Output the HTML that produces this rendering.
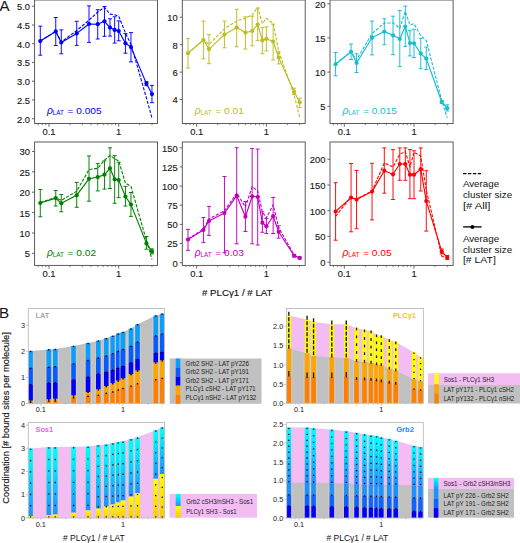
<!DOCTYPE html><html><head><meta charset="utf-8"><style>html,body{margin:0;padding:0;background:#fff;}svg{display:block;}</style></head><body>
<svg width="520" height="543" viewBox="0 0 520 543" font-family='"Liberation Sans", sans-serif'>
<rect width="520" height="543" fill="#fff"/>
<text x="-0.40" y="10.80" font-size="14.90" text-anchor="start" fill="#111" textLength="10.06" lengthAdjust="spacingAndGlyphs" >A</text>
<defs><clipPath id="ca00"><rect x="34.6" y="0.0" width="122.9" height="123.5"/></clipPath></defs>
<g clip-path="url(#ca00)">
<polyline points="40.29,41.00 55.75,31.40 61.27,42.00 76.74,30.50 89.01,20.20 97.72,12.00 104.47,7.40 109.99,14.10 114.66,14.80 118.70,16.20 125.45,33.00 130.97,44.40 146.44,98.00 151.96,117.90" fill="none" stroke="#0000ff" stroke-width="1.1" stroke-dasharray="3.2,1.5" stroke-linejoin="round"/>
<g opacity="0.95">
<path d="M40.29,26.20V55.20M38.29,26.20H42.29M38.29,55.20H42.29M55.75,17.50V45.50M53.75,17.50H57.75M53.75,45.50H57.75M61.27,29.90V53.80M59.27,29.90H63.27M59.27,53.80H63.27M76.74,21.30V45.40M74.74,21.30H78.74M74.74,45.40H78.74M89.01,5.90V42.40M87.01,5.90H91.01M87.01,42.40H91.01M97.72,9.70V39.00M95.72,9.70H99.72M95.72,39.00H99.72M104.47,6.50V36.30M102.47,6.50H106.47M102.47,36.30H106.47M109.99,18.80V36.10M107.99,18.80H111.99M107.99,36.10H111.99M114.66,16.80V43.10M112.66,16.80H116.66M112.66,43.10H116.66M118.70,20.90V40.80M116.70,20.90H120.70M116.70,40.80H120.70M125.45,33.60V53.20M123.45,33.60H127.45M123.45,53.20H127.45M130.97,32.60V61.90M128.97,32.60H132.97M128.97,61.90H132.97M146.44,81.60V85.70M144.44,81.60H148.44M144.44,85.70H148.44M151.96,85.40V102.70M149.96,85.40H153.96M149.96,102.70H153.96" fill="none" stroke="#0000ff" stroke-width="1.0"/>
</g>
<polyline points="40.29,41.05 55.75,31.40 61.27,42.40 76.74,33.40 89.01,24.00 97.72,24.20 104.47,21.30 109.99,27.60 114.66,29.90 118.70,31.00 125.45,43.30 130.97,47.10 146.44,83.60 151.96,94.10" fill="none" stroke="#0000ff" stroke-width="1.15" stroke-linejoin="round"/>
<circle cx="40.29" cy="41.05" r="2.1" fill="#0000ff"/>
<circle cx="55.75" cy="31.40" r="2.1" fill="#0000ff"/>
<circle cx="61.27" cy="42.40" r="2.1" fill="#0000ff"/>
<circle cx="76.74" cy="33.40" r="2.1" fill="#0000ff"/>
<circle cx="89.01" cy="24.00" r="2.1" fill="#0000ff"/>
<circle cx="97.72" cy="24.20" r="2.1" fill="#0000ff"/>
<circle cx="104.47" cy="21.30" r="2.1" fill="#0000ff"/>
<circle cx="109.99" cy="27.60" r="2.1" fill="#0000ff"/>
<circle cx="114.66" cy="29.90" r="2.1" fill="#0000ff"/>
<circle cx="118.70" cy="31.00" r="2.1" fill="#0000ff"/>
<circle cx="125.45" cy="43.30" r="2.1" fill="#0000ff"/>
<circle cx="130.97" cy="47.10" r="2.1" fill="#0000ff"/>
<circle cx="146.44" cy="83.60" r="2.1" fill="#0000ff"/>
<circle cx="151.96" cy="94.10" r="2.1" fill="#0000ff"/>
</g>
<rect x="34.60" y="0.00" width="122.90" height="123.50" fill="none" stroke="#4a4a4a" stroke-width="0.9"/>
<line x1="38.20" y1="123.5" x2="38.20" y2="125.3" stroke="#555" stroke-width="0.7"/>
<line x1="42.25" y1="123.5" x2="42.25" y2="125.3" stroke="#555" stroke-width="0.7"/>
<line x1="45.81" y1="123.5" x2="45.81" y2="125.3" stroke="#555" stroke-width="0.7"/>
<line x1="49.00" y1="123.5" x2="49.00" y2="126.7" stroke="#555" stroke-width="0.9"/>
<line x1="69.98" y1="123.5" x2="69.98" y2="125.3" stroke="#555" stroke-width="0.7"/>
<line x1="82.26" y1="123.5" x2="82.26" y2="125.3" stroke="#555" stroke-width="0.7"/>
<line x1="90.96" y1="123.5" x2="90.96" y2="125.3" stroke="#555" stroke-width="0.7"/>
<line x1="97.72" y1="123.5" x2="97.72" y2="125.3" stroke="#555" stroke-width="0.7"/>
<line x1="103.24" y1="123.5" x2="103.24" y2="125.3" stroke="#555" stroke-width="0.7"/>
<line x1="107.90" y1="123.5" x2="107.90" y2="125.3" stroke="#555" stroke-width="0.7"/>
<line x1="111.95" y1="123.5" x2="111.95" y2="125.3" stroke="#555" stroke-width="0.7"/>
<line x1="115.51" y1="123.5" x2="115.51" y2="125.3" stroke="#555" stroke-width="0.7"/>
<line x1="118.70" y1="123.5" x2="118.70" y2="126.7" stroke="#555" stroke-width="0.9"/>
<line x1="139.68" y1="123.5" x2="139.68" y2="125.3" stroke="#555" stroke-width="0.7"/>
<line x1="151.96" y1="123.5" x2="151.96" y2="125.3" stroke="#555" stroke-width="0.7"/>
<text x="49.00" y="134.80" font-size="9.43" text-anchor="middle" fill="#1a1a1a" stroke="#1a1a1a" stroke-width="0.14" textLength="13.04" lengthAdjust="spacingAndGlyphs" >0.1</text>
<text x="118.70" y="134.80" font-size="9.43" text-anchor="middle" fill="#1a1a1a" stroke="#1a1a1a" stroke-width="0.14" textLength="5.22" lengthAdjust="spacingAndGlyphs" >1</text>
<line x1="32.00" y1="6.20" x2="34.60" y2="6.20" stroke="#555" stroke-width="0.9"/>
<text x="30.00" y="10.10" font-size="9.43" text-anchor="end" fill="#1a1a1a" stroke="#1a1a1a" stroke-width="0.14" textLength="13.04" lengthAdjust="spacingAndGlyphs" >5.0</text>
<line x1="32.00" y1="25.00" x2="34.60" y2="25.00" stroke="#555" stroke-width="0.9"/>
<text x="30.00" y="28.90" font-size="9.43" text-anchor="end" fill="#1a1a1a" stroke="#1a1a1a" stroke-width="0.14" textLength="13.04" lengthAdjust="spacingAndGlyphs" >4.5</text>
<line x1="32.00" y1="43.70" x2="34.60" y2="43.70" stroke="#555" stroke-width="0.9"/>
<text x="30.00" y="47.60" font-size="9.43" text-anchor="end" fill="#1a1a1a" stroke="#1a1a1a" stroke-width="0.14" textLength="13.04" lengthAdjust="spacingAndGlyphs" >4.0</text>
<line x1="32.00" y1="62.40" x2="34.60" y2="62.40" stroke="#555" stroke-width="0.9"/>
<text x="30.00" y="66.30" font-size="9.43" text-anchor="end" fill="#1a1a1a" stroke="#1a1a1a" stroke-width="0.14" textLength="13.04" lengthAdjust="spacingAndGlyphs" >3.5</text>
<line x1="32.00" y1="81.20" x2="34.60" y2="81.20" stroke="#555" stroke-width="0.9"/>
<text x="30.00" y="85.10" font-size="9.43" text-anchor="end" fill="#1a1a1a" stroke="#1a1a1a" stroke-width="0.14" textLength="13.04" lengthAdjust="spacingAndGlyphs" >3.0</text>
<line x1="32.00" y1="99.90" x2="34.60" y2="99.90" stroke="#555" stroke-width="0.9"/>
<text x="30.00" y="103.80" font-size="9.43" text-anchor="end" fill="#1a1a1a" stroke="#1a1a1a" stroke-width="0.14" textLength="13.04" lengthAdjust="spacingAndGlyphs" >2.5</text>
<line x1="32.00" y1="118.70" x2="34.60" y2="118.70" stroke="#555" stroke-width="0.9"/>
<text x="30.00" y="122.60" font-size="9.43" text-anchor="end" fill="#1a1a1a" stroke="#1a1a1a" stroke-width="0.14" textLength="13.04" lengthAdjust="spacingAndGlyphs" >2.0</text>
<text x="47.00" y="113.90" font-size="10.3" font-style="italic" fill="#0000ff">ρ</text>
<text x="52.80" y="115.40" font-size="6.90" text-anchor="start" fill="#0000ff" textLength="11.11" lengthAdjust="spacingAndGlyphs" >LAT</text>
<text x="67.60" y="113.90" font-size="9.72" text-anchor="start" fill="#0000ff" textLength="33.96" lengthAdjust="spacingAndGlyphs" >= 0.005</text>
<defs><clipPath id="ca10"><rect x="182.3" y="0.0" width="122.89999999999998" height="123.5"/></clipPath></defs>
<g clip-path="url(#ca10)">
<polyline points="187.99,53.20 203.45,40.00 208.97,44.40 224.44,28.90 236.71,20.90 245.42,18.20 252.17,14.80 257.69,7.40 262.36,23.60 266.40,18.20 273.15,23.60 278.67,51.00 294.14,95.10 299.66,117.20" fill="none" stroke="#bcbd22" stroke-width="1.1" stroke-dasharray="3.2,1.5" stroke-linejoin="round"/>
<g opacity="0.95">
<path d="M187.99,38.60V68.00M185.99,38.60H189.99M185.99,68.00H189.99M203.45,21.10V58.80M201.45,21.10H205.45M201.45,58.80H205.45M208.97,34.60V63.70M206.97,34.60H210.97M206.97,63.70H210.97M224.44,21.10V47.80M222.44,21.10H226.44M222.44,47.80H226.44M236.71,9.20V46.80M234.71,9.20H238.71M234.71,46.80H238.71M245.42,16.80V49.00M243.42,16.80H247.42M243.42,49.00H247.42M252.17,16.20V45.80M250.17,16.20H254.17M250.17,45.80H254.17M257.69,8.10V40.60M255.69,8.10H259.69M255.69,40.60H259.69M262.36,27.60V53.80M260.36,27.60H264.36M260.36,53.80H264.36M266.40,26.90V50.90M264.40,26.90H268.40M264.40,50.90H268.40M273.15,24.20V59.90M271.15,24.20H275.15M271.15,59.90H275.15M278.67,51.80V63.90M276.67,51.80H280.67M276.67,63.90H280.67M294.14,88.20V94.40M292.14,88.20H296.14M292.14,94.40H296.14M299.66,98.20V107.60M297.66,98.20H301.66M297.66,107.60H301.66" fill="none" stroke="#bcbd22" stroke-width="1.0"/>
</g>
<polyline points="187.99,53.20 203.45,40.00 208.97,49.10 224.44,34.60 236.71,27.60 245.42,32.60 252.17,31.00 257.69,24.50 262.36,40.40 266.40,38.80 273.15,41.50 278.67,57.50 294.14,91.70 299.66,102.30" fill="none" stroke="#bcbd22" stroke-width="1.15" stroke-linejoin="round"/>
<circle cx="187.99" cy="53.20" r="2.1" fill="#bcbd22"/>
<circle cx="203.45" cy="40.00" r="2.1" fill="#bcbd22"/>
<circle cx="208.97" cy="49.10" r="2.1" fill="#bcbd22"/>
<circle cx="224.44" cy="34.60" r="2.1" fill="#bcbd22"/>
<circle cx="236.71" cy="27.60" r="2.1" fill="#bcbd22"/>
<circle cx="245.42" cy="32.60" r="2.1" fill="#bcbd22"/>
<circle cx="252.17" cy="31.00" r="2.1" fill="#bcbd22"/>
<circle cx="257.69" cy="24.50" r="2.1" fill="#bcbd22"/>
<circle cx="262.36" cy="40.40" r="2.1" fill="#bcbd22"/>
<circle cx="266.40" cy="38.80" r="2.1" fill="#bcbd22"/>
<circle cx="273.15" cy="41.50" r="2.1" fill="#bcbd22"/>
<circle cx="278.67" cy="57.50" r="2.1" fill="#bcbd22"/>
<circle cx="294.14" cy="91.70" r="2.1" fill="#bcbd22"/>
<circle cx="299.66" cy="102.30" r="2.1" fill="#bcbd22"/>
</g>
<rect x="182.30" y="0.00" width="122.90" height="123.50" fill="none" stroke="#4a4a4a" stroke-width="0.9"/>
<line x1="185.90" y1="123.5" x2="185.90" y2="125.3" stroke="#555" stroke-width="0.7"/>
<line x1="189.95" y1="123.5" x2="189.95" y2="125.3" stroke="#555" stroke-width="0.7"/>
<line x1="193.51" y1="123.5" x2="193.51" y2="125.3" stroke="#555" stroke-width="0.7"/>
<line x1="196.70" y1="123.5" x2="196.70" y2="126.7" stroke="#555" stroke-width="0.9"/>
<line x1="217.68" y1="123.5" x2="217.68" y2="125.3" stroke="#555" stroke-width="0.7"/>
<line x1="229.96" y1="123.5" x2="229.96" y2="125.3" stroke="#555" stroke-width="0.7"/>
<line x1="238.66" y1="123.5" x2="238.66" y2="125.3" stroke="#555" stroke-width="0.7"/>
<line x1="245.42" y1="123.5" x2="245.42" y2="125.3" stroke="#555" stroke-width="0.7"/>
<line x1="250.94" y1="123.5" x2="250.94" y2="125.3" stroke="#555" stroke-width="0.7"/>
<line x1="255.60" y1="123.5" x2="255.60" y2="125.3" stroke="#555" stroke-width="0.7"/>
<line x1="259.65" y1="123.5" x2="259.65" y2="125.3" stroke="#555" stroke-width="0.7"/>
<line x1="263.21" y1="123.5" x2="263.21" y2="125.3" stroke="#555" stroke-width="0.7"/>
<line x1="266.40" y1="123.5" x2="266.40" y2="126.7" stroke="#555" stroke-width="0.9"/>
<line x1="287.38" y1="123.5" x2="287.38" y2="125.3" stroke="#555" stroke-width="0.7"/>
<line x1="299.66" y1="123.5" x2="299.66" y2="125.3" stroke="#555" stroke-width="0.7"/>
<text x="196.70" y="134.80" font-size="9.43" text-anchor="middle" fill="#1a1a1a" stroke="#1a1a1a" stroke-width="0.14" textLength="13.04" lengthAdjust="spacingAndGlyphs" >0.1</text>
<text x="266.40" y="134.80" font-size="9.43" text-anchor="middle" fill="#1a1a1a" stroke="#1a1a1a" stroke-width="0.14" textLength="5.22" lengthAdjust="spacingAndGlyphs" >1</text>
<line x1="179.70" y1="17.20" x2="182.30" y2="17.20" stroke="#555" stroke-width="0.9"/>
<text x="177.70" y="21.10" font-size="9.43" text-anchor="end" fill="#1a1a1a" stroke="#1a1a1a" stroke-width="0.14" textLength="10.43" lengthAdjust="spacingAndGlyphs" >10</text>
<line x1="179.70" y1="44.70" x2="182.30" y2="44.70" stroke="#555" stroke-width="0.9"/>
<text x="177.70" y="48.60" font-size="9.43" text-anchor="end" fill="#1a1a1a" stroke="#1a1a1a" stroke-width="0.14" textLength="5.22" lengthAdjust="spacingAndGlyphs" >8</text>
<line x1="179.70" y1="72.10" x2="182.30" y2="72.10" stroke="#555" stroke-width="0.9"/>
<text x="177.70" y="76.00" font-size="9.43" text-anchor="end" fill="#1a1a1a" stroke="#1a1a1a" stroke-width="0.14" textLength="5.22" lengthAdjust="spacingAndGlyphs" >6</text>
<line x1="179.70" y1="99.50" x2="182.30" y2="99.50" stroke="#555" stroke-width="0.9"/>
<text x="177.70" y="103.40" font-size="9.43" text-anchor="end" fill="#1a1a1a" stroke="#1a1a1a" stroke-width="0.14" textLength="5.22" lengthAdjust="spacingAndGlyphs" >4</text>
<text x="194.70" y="113.90" font-size="10.3" font-style="italic" fill="#bcbd22">ρ</text>
<text x="200.50" y="115.40" font-size="6.90" text-anchor="start" fill="#bcbd22" textLength="11.11" lengthAdjust="spacingAndGlyphs" >LAT</text>
<text x="215.30" y="113.90" font-size="9.72" text-anchor="start" fill="#bcbd22" textLength="28.58" lengthAdjust="spacingAndGlyphs" >= 0.01</text>
<defs><clipPath id="ca20"><rect x="330.0" y="0.0" width="123.10000000000002" height="123.5"/></clipPath></defs>
<g clip-path="url(#ca20)">
<polyline points="335.59,64.00 351.05,51.50 356.57,60.00 372.04,33.60 384.31,23.10 393.02,22.90 399.77,28.30 405.29,11.40 409.96,24.90 414.00,23.60 420.75,35.70 426.27,40.40 441.74,100.60 447.26,117.90" fill="none" stroke="#17becf" stroke-width="1.1" stroke-dasharray="3.2,1.5" stroke-linejoin="round"/>
<g opacity="0.95">
<path d="M335.59,52.50V75.75M333.59,52.50H337.59M333.59,75.75H337.59M351.05,44.10V59.50M349.05,44.10H353.05M349.05,59.50H353.05M356.57,53.80V72.50M354.57,53.80H358.57M354.57,72.50H358.57M372.04,21.10V54.90M370.04,21.10H374.04M370.04,54.90H374.04M384.31,18.80V44.70M382.31,18.80H386.31M382.31,44.70H386.31M393.02,16.20V54.70M391.02,16.20H395.02M391.02,54.70H395.02M399.77,10.50V66.60M397.77,10.50H401.77M397.77,66.60H401.77M405.29,6.10V46.40M403.29,6.10H407.29M403.29,46.40H407.29M409.96,30.70V55.90M407.96,30.70H411.96M407.96,55.90H411.96M414.00,29.30V57.60M412.00,29.30H416.00M412.00,57.60H416.00M420.75,38.40V68.70M418.75,38.40H422.75M418.75,68.70H422.75M426.27,47.10V69.50M424.27,47.10H428.27M424.27,69.50H428.27M441.74,100.50V103.50M439.74,100.50H443.74M439.74,103.50H443.74M447.26,104.80V111.00M445.26,104.80H449.26M445.26,111.00H449.26" fill="none" stroke="#17becf" stroke-width="1.0"/>
</g>
<polyline points="335.59,64.30 351.05,51.80 356.57,63.00 372.04,37.70 384.31,31.60 393.02,35.30 399.77,39.00 405.29,26.50 409.96,43.10 414.00,43.30 420.75,53.60 426.27,58.50 441.74,102.00 447.26,108.20" fill="none" stroke="#17becf" stroke-width="1.15" stroke-linejoin="round"/>
<circle cx="335.59" cy="64.30" r="2.1" fill="#17becf"/>
<circle cx="351.05" cy="51.80" r="2.1" fill="#17becf"/>
<circle cx="356.57" cy="63.00" r="2.1" fill="#17becf"/>
<circle cx="372.04" cy="37.70" r="2.1" fill="#17becf"/>
<circle cx="384.31" cy="31.60" r="2.1" fill="#17becf"/>
<circle cx="393.02" cy="35.30" r="2.1" fill="#17becf"/>
<circle cx="399.77" cy="39.00" r="2.1" fill="#17becf"/>
<circle cx="405.29" cy="26.50" r="2.1" fill="#17becf"/>
<circle cx="409.96" cy="43.10" r="2.1" fill="#17becf"/>
<circle cx="414.00" cy="43.30" r="2.1" fill="#17becf"/>
<circle cx="420.75" cy="53.60" r="2.1" fill="#17becf"/>
<circle cx="426.27" cy="58.50" r="2.1" fill="#17becf"/>
<circle cx="441.74" cy="102.00" r="2.1" fill="#17becf"/>
<circle cx="447.26" cy="108.20" r="2.1" fill="#17becf"/>
</g>
<rect x="330.00" y="0.00" width="123.10" height="123.50" fill="none" stroke="#4a4a4a" stroke-width="0.9"/>
<line x1="333.50" y1="123.5" x2="333.50" y2="125.3" stroke="#555" stroke-width="0.7"/>
<line x1="337.55" y1="123.5" x2="337.55" y2="125.3" stroke="#555" stroke-width="0.7"/>
<line x1="341.11" y1="123.5" x2="341.11" y2="125.3" stroke="#555" stroke-width="0.7"/>
<line x1="344.30" y1="123.5" x2="344.30" y2="126.7" stroke="#555" stroke-width="0.9"/>
<line x1="365.28" y1="123.5" x2="365.28" y2="125.3" stroke="#555" stroke-width="0.7"/>
<line x1="377.56" y1="123.5" x2="377.56" y2="125.3" stroke="#555" stroke-width="0.7"/>
<line x1="386.26" y1="123.5" x2="386.26" y2="125.3" stroke="#555" stroke-width="0.7"/>
<line x1="393.02" y1="123.5" x2="393.02" y2="125.3" stroke="#555" stroke-width="0.7"/>
<line x1="398.54" y1="123.5" x2="398.54" y2="125.3" stroke="#555" stroke-width="0.7"/>
<line x1="403.20" y1="123.5" x2="403.20" y2="125.3" stroke="#555" stroke-width="0.7"/>
<line x1="407.25" y1="123.5" x2="407.25" y2="125.3" stroke="#555" stroke-width="0.7"/>
<line x1="410.81" y1="123.5" x2="410.81" y2="125.3" stroke="#555" stroke-width="0.7"/>
<line x1="414.00" y1="123.5" x2="414.00" y2="126.7" stroke="#555" stroke-width="0.9"/>
<line x1="434.98" y1="123.5" x2="434.98" y2="125.3" stroke="#555" stroke-width="0.7"/>
<line x1="447.26" y1="123.5" x2="447.26" y2="125.3" stroke="#555" stroke-width="0.7"/>
<text x="344.30" y="134.80" font-size="9.43" text-anchor="middle" fill="#1a1a1a" stroke="#1a1a1a" stroke-width="0.14" textLength="13.04" lengthAdjust="spacingAndGlyphs" >0.1</text>
<text x="414.00" y="134.80" font-size="9.43" text-anchor="middle" fill="#1a1a1a" stroke="#1a1a1a" stroke-width="0.14" textLength="5.22" lengthAdjust="spacingAndGlyphs" >1</text>
<line x1="327.40" y1="3.80" x2="330.00" y2="3.80" stroke="#555" stroke-width="0.9"/>
<text x="325.40" y="7.70" font-size="9.43" text-anchor="end" fill="#1a1a1a" stroke="#1a1a1a" stroke-width="0.14" textLength="10.43" lengthAdjust="spacingAndGlyphs" >20</text>
<line x1="327.40" y1="37.90" x2="330.00" y2="37.90" stroke="#555" stroke-width="0.9"/>
<text x="325.40" y="41.80" font-size="9.43" text-anchor="end" fill="#1a1a1a" stroke="#1a1a1a" stroke-width="0.14" textLength="10.43" lengthAdjust="spacingAndGlyphs" >15</text>
<line x1="327.40" y1="72.10" x2="330.00" y2="72.10" stroke="#555" stroke-width="0.9"/>
<text x="325.40" y="76.00" font-size="9.43" text-anchor="end" fill="#1a1a1a" stroke="#1a1a1a" stroke-width="0.14" textLength="10.43" lengthAdjust="spacingAndGlyphs" >10</text>
<line x1="327.40" y1="106.30" x2="330.00" y2="106.30" stroke="#555" stroke-width="0.9"/>
<text x="325.40" y="110.20" font-size="9.43" text-anchor="end" fill="#1a1a1a" stroke="#1a1a1a" stroke-width="0.14" textLength="5.22" lengthAdjust="spacingAndGlyphs" >5</text>
<text x="342.40" y="113.90" font-size="10.3" font-style="italic" fill="#17becf">ρ</text>
<text x="348.20" y="115.40" font-size="6.90" text-anchor="start" fill="#17becf" textLength="11.11" lengthAdjust="spacingAndGlyphs" >LAT</text>
<text x="363.00" y="113.90" font-size="9.72" text-anchor="start" fill="#17becf" textLength="33.96" lengthAdjust="spacingAndGlyphs" >= 0.015</text>
<defs><clipPath id="ca01"><rect x="34.6" y="142.0" width="122.9" height="123.39999999999998"/></clipPath></defs>
<g clip-path="url(#ca01)">
<polyline points="40.29,202.50 55.75,197.50 61.27,200.50 76.74,191.10 89.01,169.60 97.72,168.30 104.47,160.20 109.99,155.50 114.66,158.80 118.70,160.90 125.45,183.10 130.97,186.40 146.44,240.60 151.96,259.30" fill="none" stroke="#008000" stroke-width="1.1" stroke-dasharray="3.2,1.5" stroke-linejoin="round"/>
<g opacity="0.95">
<path d="M40.29,189.50V216.75M38.29,189.50H42.29M38.29,216.75H42.29M55.75,190.50V206.00M53.75,190.50H57.75M53.75,206.00H57.75M61.27,194.50V211.75M59.27,194.50H63.27M59.27,211.75H63.27M76.74,182.40V207.30M74.74,182.40H78.74M74.74,207.30H78.74M89.01,155.90V201.20M87.01,155.90H91.01M87.01,201.20H91.01M97.72,163.60V190.90M95.72,163.60H99.72M95.72,190.90H99.72M104.47,160.90V189.10M102.47,160.90H106.47M102.47,189.10H106.47M109.99,147.80V188.50M107.99,147.80H111.99M107.99,188.50H111.99M114.66,155.50V203.30M112.66,155.50H116.66M112.66,203.30H116.66M118.70,162.20V197.60M116.70,162.20H120.70M116.70,197.60H120.70M125.45,186.40V206.00M123.45,186.40H127.45M123.45,206.00H127.45M130.97,192.50V216.40M128.97,192.50H132.97M128.97,216.40H132.97M146.44,236.50V249.20M144.44,236.50H148.44M144.44,249.20H148.44M151.96,248.90V253.80M149.96,248.90H153.96M149.96,253.80H153.96" fill="none" stroke="#008000" stroke-width="1.0"/>
</g>
<polyline points="40.29,203.00 55.75,198.10 61.27,203.30 76.74,195.20 89.01,178.80 97.72,177.10 104.47,174.70 109.99,168.30 114.66,179.30 118.70,180.10 125.45,196.50 130.97,204.60 146.44,243.40 151.96,251.40" fill="none" stroke="#008000" stroke-width="1.15" stroke-linejoin="round"/>
<circle cx="40.29" cy="203.00" r="2.1" fill="#008000"/>
<circle cx="55.75" cy="198.10" r="2.1" fill="#008000"/>
<circle cx="61.27" cy="203.30" r="2.1" fill="#008000"/>
<circle cx="76.74" cy="195.20" r="2.1" fill="#008000"/>
<circle cx="89.01" cy="178.80" r="2.1" fill="#008000"/>
<circle cx="97.72" cy="177.10" r="2.1" fill="#008000"/>
<circle cx="104.47" cy="174.70" r="2.1" fill="#008000"/>
<circle cx="109.99" cy="168.30" r="2.1" fill="#008000"/>
<circle cx="114.66" cy="179.30" r="2.1" fill="#008000"/>
<circle cx="118.70" cy="180.10" r="2.1" fill="#008000"/>
<circle cx="125.45" cy="196.50" r="2.1" fill="#008000"/>
<circle cx="130.97" cy="204.60" r="2.1" fill="#008000"/>
<circle cx="146.44" cy="243.40" r="2.1" fill="#008000"/>
<circle cx="151.96" cy="251.40" r="2.1" fill="#008000"/>
</g>
<rect x="34.60" y="142.00" width="122.90" height="123.40" fill="none" stroke="#4a4a4a" stroke-width="0.9"/>
<line x1="38.20" y1="265.4" x2="38.20" y2="267.2" stroke="#555" stroke-width="0.7"/>
<line x1="42.25" y1="265.4" x2="42.25" y2="267.2" stroke="#555" stroke-width="0.7"/>
<line x1="45.81" y1="265.4" x2="45.81" y2="267.2" stroke="#555" stroke-width="0.7"/>
<line x1="49.00" y1="265.4" x2="49.00" y2="268.59999999999997" stroke="#555" stroke-width="0.9"/>
<line x1="69.98" y1="265.4" x2="69.98" y2="267.2" stroke="#555" stroke-width="0.7"/>
<line x1="82.26" y1="265.4" x2="82.26" y2="267.2" stroke="#555" stroke-width="0.7"/>
<line x1="90.96" y1="265.4" x2="90.96" y2="267.2" stroke="#555" stroke-width="0.7"/>
<line x1="97.72" y1="265.4" x2="97.72" y2="267.2" stroke="#555" stroke-width="0.7"/>
<line x1="103.24" y1="265.4" x2="103.24" y2="267.2" stroke="#555" stroke-width="0.7"/>
<line x1="107.90" y1="265.4" x2="107.90" y2="267.2" stroke="#555" stroke-width="0.7"/>
<line x1="111.95" y1="265.4" x2="111.95" y2="267.2" stroke="#555" stroke-width="0.7"/>
<line x1="115.51" y1="265.4" x2="115.51" y2="267.2" stroke="#555" stroke-width="0.7"/>
<line x1="118.70" y1="265.4" x2="118.70" y2="268.59999999999997" stroke="#555" stroke-width="0.9"/>
<line x1="139.68" y1="265.4" x2="139.68" y2="267.2" stroke="#555" stroke-width="0.7"/>
<line x1="151.96" y1="265.4" x2="151.96" y2="267.2" stroke="#555" stroke-width="0.7"/>
<text x="49.00" y="276.70" font-size="9.43" text-anchor="middle" fill="#1a1a1a" stroke="#1a1a1a" stroke-width="0.14" textLength="13.04" lengthAdjust="spacingAndGlyphs" >0.1</text>
<text x="118.70" y="276.70" font-size="9.43" text-anchor="middle" fill="#1a1a1a" stroke="#1a1a1a" stroke-width="0.14" textLength="5.22" lengthAdjust="spacingAndGlyphs" >1</text>
<line x1="32.00" y1="151.50" x2="34.60" y2="151.50" stroke="#555" stroke-width="0.9"/>
<text x="30.00" y="155.40" font-size="9.43" text-anchor="end" fill="#1a1a1a" stroke="#1a1a1a" stroke-width="0.14" textLength="10.43" lengthAdjust="spacingAndGlyphs" >30</text>
<line x1="32.00" y1="171.80" x2="34.60" y2="171.80" stroke="#555" stroke-width="0.9"/>
<text x="30.00" y="175.70" font-size="9.43" text-anchor="end" fill="#1a1a1a" stroke="#1a1a1a" stroke-width="0.14" textLength="10.43" lengthAdjust="spacingAndGlyphs" >25</text>
<line x1="32.00" y1="192.20" x2="34.60" y2="192.20" stroke="#555" stroke-width="0.9"/>
<text x="30.00" y="196.10" font-size="9.43" text-anchor="end" fill="#1a1a1a" stroke="#1a1a1a" stroke-width="0.14" textLength="10.43" lengthAdjust="spacingAndGlyphs" >20</text>
<line x1="32.00" y1="212.60" x2="34.60" y2="212.60" stroke="#555" stroke-width="0.9"/>
<text x="30.00" y="216.50" font-size="9.43" text-anchor="end" fill="#1a1a1a" stroke="#1a1a1a" stroke-width="0.14" textLength="10.43" lengthAdjust="spacingAndGlyphs" >15</text>
<line x1="32.00" y1="233.00" x2="34.60" y2="233.00" stroke="#555" stroke-width="0.9"/>
<text x="30.00" y="236.90" font-size="9.43" text-anchor="end" fill="#1a1a1a" stroke="#1a1a1a" stroke-width="0.14" textLength="10.43" lengthAdjust="spacingAndGlyphs" >10</text>
<line x1="32.00" y1="253.40" x2="34.60" y2="253.40" stroke="#555" stroke-width="0.9"/>
<text x="30.00" y="257.30" font-size="9.43" text-anchor="end" fill="#1a1a1a" stroke="#1a1a1a" stroke-width="0.14" textLength="5.22" lengthAdjust="spacingAndGlyphs" >5</text>
<text x="47.00" y="255.80" font-size="10.3" font-style="italic" fill="#008000">ρ</text>
<text x="52.80" y="257.30" font-size="6.90" text-anchor="start" fill="#008000" textLength="11.11" lengthAdjust="spacingAndGlyphs" >LAT</text>
<text x="67.60" y="255.80" font-size="9.72" text-anchor="start" fill="#008000" textLength="28.58" lengthAdjust="spacingAndGlyphs" >= 0.02</text>
<defs><clipPath id="ca11"><rect x="182.3" y="142.0" width="122.89999999999998" height="123.39999999999998"/></clipPath></defs>
<g clip-path="url(#ca11)">
<polyline points="187.99,239.00 203.45,229.00 208.97,219.10 224.44,210.70 236.71,193.20 245.42,207.00 252.17,186.60 257.69,191.00 262.36,212.00 266.40,218.00 273.15,204.80 278.67,227.50 294.14,255.00 299.66,258.00" fill="none" stroke="#bf00bf" stroke-width="1.1" stroke-dasharray="3.2,1.5" stroke-linejoin="round"/>
<g opacity="0.95">
<path d="M187.99,229.40V250.30M185.99,229.40H189.99M185.99,250.30H189.99M203.45,217.50V242.60M201.45,217.50H205.45M201.45,242.60H205.45M208.97,206.40V235.40M206.97,206.40H210.97M206.97,235.40H210.97M224.44,176.50V252.70M222.44,176.50H226.44M222.44,252.70H226.44M236.71,147.70V243.80M234.71,147.70H238.71M234.71,243.80H238.71M245.42,201.50V231.50M243.42,201.50H247.42M243.42,231.50H247.42M252.17,148.40V243.80M250.17,148.40H254.17M250.17,243.80H254.17M257.69,149.10V245.00M255.69,149.10H259.69M255.69,245.00H259.69M262.36,211.90V232.30M260.36,211.90H264.36M260.36,232.30H264.36M266.40,218.60V233.50M264.40,218.60H268.40M264.40,233.50H268.40M273.15,197.50V233.50M271.15,197.50H275.15M271.15,233.50H275.15M278.67,225.80V238.20M276.67,225.80H280.67M276.67,238.20H280.67M294.14,254.50V257.00M292.14,254.50H296.14M292.14,257.00H296.14M299.66,257.00V259.00M297.66,257.00H301.66M297.66,259.00H301.66" fill="none" stroke="#bf00bf" stroke-width="1.0"/>
</g>
<polyline points="187.99,239.50 203.45,229.90 208.97,221.00 224.44,213.10 236.71,195.70 245.42,216.70 252.17,196.30 257.69,197.00 262.36,222.70 266.40,226.30 273.15,216.20 278.67,231.80 294.14,255.70 299.66,257.90" fill="none" stroke="#bf00bf" stroke-width="1.15" stroke-linejoin="round"/>
<circle cx="187.99" cy="239.50" r="2.1" fill="#bf00bf"/>
<circle cx="203.45" cy="229.90" r="2.1" fill="#bf00bf"/>
<circle cx="208.97" cy="221.00" r="2.1" fill="#bf00bf"/>
<circle cx="224.44" cy="213.10" r="2.1" fill="#bf00bf"/>
<circle cx="236.71" cy="195.70" r="2.1" fill="#bf00bf"/>
<circle cx="245.42" cy="216.70" r="2.1" fill="#bf00bf"/>
<circle cx="252.17" cy="196.30" r="2.1" fill="#bf00bf"/>
<circle cx="257.69" cy="197.00" r="2.1" fill="#bf00bf"/>
<circle cx="262.36" cy="222.70" r="2.1" fill="#bf00bf"/>
<circle cx="266.40" cy="226.30" r="2.1" fill="#bf00bf"/>
<circle cx="273.15" cy="216.20" r="2.1" fill="#bf00bf"/>
<circle cx="278.67" cy="231.80" r="2.1" fill="#bf00bf"/>
<circle cx="294.14" cy="255.70" r="2.1" fill="#bf00bf"/>
<circle cx="299.66" cy="257.90" r="2.1" fill="#bf00bf"/>
</g>
<rect x="182.30" y="142.00" width="122.90" height="123.40" fill="none" stroke="#4a4a4a" stroke-width="0.9"/>
<line x1="185.90" y1="265.4" x2="185.90" y2="267.2" stroke="#555" stroke-width="0.7"/>
<line x1="189.95" y1="265.4" x2="189.95" y2="267.2" stroke="#555" stroke-width="0.7"/>
<line x1="193.51" y1="265.4" x2="193.51" y2="267.2" stroke="#555" stroke-width="0.7"/>
<line x1="196.70" y1="265.4" x2="196.70" y2="268.59999999999997" stroke="#555" stroke-width="0.9"/>
<line x1="217.68" y1="265.4" x2="217.68" y2="267.2" stroke="#555" stroke-width="0.7"/>
<line x1="229.96" y1="265.4" x2="229.96" y2="267.2" stroke="#555" stroke-width="0.7"/>
<line x1="238.66" y1="265.4" x2="238.66" y2="267.2" stroke="#555" stroke-width="0.7"/>
<line x1="245.42" y1="265.4" x2="245.42" y2="267.2" stroke="#555" stroke-width="0.7"/>
<line x1="250.94" y1="265.4" x2="250.94" y2="267.2" stroke="#555" stroke-width="0.7"/>
<line x1="255.60" y1="265.4" x2="255.60" y2="267.2" stroke="#555" stroke-width="0.7"/>
<line x1="259.65" y1="265.4" x2="259.65" y2="267.2" stroke="#555" stroke-width="0.7"/>
<line x1="263.21" y1="265.4" x2="263.21" y2="267.2" stroke="#555" stroke-width="0.7"/>
<line x1="266.40" y1="265.4" x2="266.40" y2="268.59999999999997" stroke="#555" stroke-width="0.9"/>
<line x1="287.38" y1="265.4" x2="287.38" y2="267.2" stroke="#555" stroke-width="0.7"/>
<line x1="299.66" y1="265.4" x2="299.66" y2="267.2" stroke="#555" stroke-width="0.7"/>
<text x="196.70" y="276.70" font-size="9.43" text-anchor="middle" fill="#1a1a1a" stroke="#1a1a1a" stroke-width="0.14" textLength="13.04" lengthAdjust="spacingAndGlyphs" >0.1</text>
<text x="266.40" y="276.70" font-size="9.43" text-anchor="middle" fill="#1a1a1a" stroke="#1a1a1a" stroke-width="0.14" textLength="5.22" lengthAdjust="spacingAndGlyphs" >1</text>
<line x1="179.70" y1="147.80" x2="182.30" y2="147.80" stroke="#555" stroke-width="0.9"/>
<text x="177.70" y="151.70" font-size="9.43" text-anchor="end" fill="#1a1a1a" stroke="#1a1a1a" stroke-width="0.14" textLength="15.65" lengthAdjust="spacingAndGlyphs" >150</text>
<line x1="179.70" y1="166.90" x2="182.30" y2="166.90" stroke="#555" stroke-width="0.9"/>
<text x="177.70" y="170.80" font-size="9.43" text-anchor="end" fill="#1a1a1a" stroke="#1a1a1a" stroke-width="0.14" textLength="15.65" lengthAdjust="spacingAndGlyphs" >125</text>
<line x1="179.70" y1="186.10" x2="182.30" y2="186.10" stroke="#555" stroke-width="0.9"/>
<text x="177.70" y="190.00" font-size="9.43" text-anchor="end" fill="#1a1a1a" stroke="#1a1a1a" stroke-width="0.14" textLength="15.65" lengthAdjust="spacingAndGlyphs" >100</text>
<line x1="179.70" y1="205.20" x2="182.30" y2="205.20" stroke="#555" stroke-width="0.9"/>
<text x="177.70" y="209.10" font-size="9.43" text-anchor="end" fill="#1a1a1a" stroke="#1a1a1a" stroke-width="0.14" textLength="10.43" lengthAdjust="spacingAndGlyphs" >75</text>
<line x1="179.70" y1="224.40" x2="182.30" y2="224.40" stroke="#555" stroke-width="0.9"/>
<text x="177.70" y="228.30" font-size="9.43" text-anchor="end" fill="#1a1a1a" stroke="#1a1a1a" stroke-width="0.14" textLength="10.43" lengthAdjust="spacingAndGlyphs" >50</text>
<line x1="179.70" y1="243.50" x2="182.30" y2="243.50" stroke="#555" stroke-width="0.9"/>
<text x="177.70" y="247.40" font-size="9.43" text-anchor="end" fill="#1a1a1a" stroke="#1a1a1a" stroke-width="0.14" textLength="10.43" lengthAdjust="spacingAndGlyphs" >25</text>
<line x1="179.70" y1="262.70" x2="182.30" y2="262.70" stroke="#555" stroke-width="0.9"/>
<text x="177.70" y="266.60" font-size="9.43" text-anchor="end" fill="#1a1a1a" stroke="#1a1a1a" stroke-width="0.14" textLength="5.22" lengthAdjust="spacingAndGlyphs" >0</text>
<text x="194.70" y="255.80" font-size="10.3" font-style="italic" fill="#bf00bf">ρ</text>
<text x="200.50" y="257.30" font-size="6.90" text-anchor="start" fill="#bf00bf" textLength="11.11" lengthAdjust="spacingAndGlyphs" >LAT</text>
<text x="215.30" y="255.80" font-size="9.72" text-anchor="start" fill="#bf00bf" textLength="28.58" lengthAdjust="spacingAndGlyphs" >= 0.03</text>
<defs><clipPath id="ca21"><rect x="330.0" y="142.0" width="123.10000000000002" height="123.39999999999998"/></clipPath></defs>
<g clip-path="url(#ca21)">
<polyline points="335.59,216.30 351.05,197.00 356.57,199.00 372.04,191.00 384.31,163.00 393.02,167.00 399.77,154.20 405.29,151.60 409.96,167.00 414.00,152.30 420.75,156.10 426.27,190.00 441.74,256.00 447.26,258.50" fill="none" stroke="#ff0000" stroke-width="1.1" stroke-dasharray="3.2,1.5" stroke-linejoin="round"/>
<g opacity="0.95">
<path d="M335.59,182.70V240.20M333.59,182.70H337.59M333.59,240.20H337.59M351.05,163.50V231.80M349.05,163.50H353.05M349.05,231.80H353.05M356.57,170.50V228.70M354.57,170.50H358.57M354.57,228.70H358.57M372.04,163.30V219.90M370.04,163.30H374.04M370.04,219.90H374.04M384.31,147.90V193.20M382.31,147.90H386.31M382.31,193.20H386.31M393.02,149.60V199.50M391.02,149.60H395.02M391.02,199.50H395.02M399.77,147.90V180.30M397.77,147.90H401.77M397.77,180.30H401.77M405.29,147.90V180.30M403.29,147.90H407.29M403.29,180.30H407.29M409.96,149.60V198.70M407.96,149.60H411.96M407.96,198.70H411.96M414.00,150.80V198.70M412.00,150.80H416.00M412.00,198.70H416.00M420.75,147.90V191.00M418.75,147.90H422.75M418.75,191.00H422.75M426.27,170.70V231.10M424.27,170.70H428.27M424.27,231.10H428.27M441.74,249.00V254.00M439.74,249.00H443.74M439.74,254.00H443.74M447.26,255.50V259.50M445.26,255.50H449.26M445.26,259.50H449.26" fill="none" stroke="#ff0000" stroke-width="1.0"/>
</g>
<polyline points="335.59,211.50 351.05,197.60 356.57,199.50 372.04,191.60 384.31,170.70 393.02,174.30 399.77,164.00 405.29,164.00 409.96,174.70 414.00,174.70 420.75,169.20 426.27,201.10 441.74,251.40 447.26,257.40" fill="none" stroke="#ff0000" stroke-width="1.15" stroke-linejoin="round"/>
<circle cx="335.59" cy="211.50" r="2.1" fill="#ff0000"/>
<circle cx="351.05" cy="197.60" r="2.1" fill="#ff0000"/>
<circle cx="356.57" cy="199.50" r="2.1" fill="#ff0000"/>
<circle cx="372.04" cy="191.60" r="2.1" fill="#ff0000"/>
<circle cx="384.31" cy="170.70" r="2.1" fill="#ff0000"/>
<circle cx="393.02" cy="174.30" r="2.1" fill="#ff0000"/>
<circle cx="399.77" cy="164.00" r="2.1" fill="#ff0000"/>
<circle cx="405.29" cy="164.00" r="2.1" fill="#ff0000"/>
<circle cx="409.96" cy="174.70" r="2.1" fill="#ff0000"/>
<circle cx="414.00" cy="174.70" r="2.1" fill="#ff0000"/>
<circle cx="420.75" cy="169.20" r="2.1" fill="#ff0000"/>
<circle cx="426.27" cy="201.10" r="2.1" fill="#ff0000"/>
<circle cx="441.74" cy="251.40" r="2.1" fill="#ff0000"/>
<circle cx="447.26" cy="257.40" r="2.1" fill="#ff0000"/>
</g>
<rect x="330.00" y="142.00" width="123.10" height="123.40" fill="none" stroke="#4a4a4a" stroke-width="0.9"/>
<line x1="333.50" y1="265.4" x2="333.50" y2="267.2" stroke="#555" stroke-width="0.7"/>
<line x1="337.55" y1="265.4" x2="337.55" y2="267.2" stroke="#555" stroke-width="0.7"/>
<line x1="341.11" y1="265.4" x2="341.11" y2="267.2" stroke="#555" stroke-width="0.7"/>
<line x1="344.30" y1="265.4" x2="344.30" y2="268.59999999999997" stroke="#555" stroke-width="0.9"/>
<line x1="365.28" y1="265.4" x2="365.28" y2="267.2" stroke="#555" stroke-width="0.7"/>
<line x1="377.56" y1="265.4" x2="377.56" y2="267.2" stroke="#555" stroke-width="0.7"/>
<line x1="386.26" y1="265.4" x2="386.26" y2="267.2" stroke="#555" stroke-width="0.7"/>
<line x1="393.02" y1="265.4" x2="393.02" y2="267.2" stroke="#555" stroke-width="0.7"/>
<line x1="398.54" y1="265.4" x2="398.54" y2="267.2" stroke="#555" stroke-width="0.7"/>
<line x1="403.20" y1="265.4" x2="403.20" y2="267.2" stroke="#555" stroke-width="0.7"/>
<line x1="407.25" y1="265.4" x2="407.25" y2="267.2" stroke="#555" stroke-width="0.7"/>
<line x1="410.81" y1="265.4" x2="410.81" y2="267.2" stroke="#555" stroke-width="0.7"/>
<line x1="414.00" y1="265.4" x2="414.00" y2="268.59999999999997" stroke="#555" stroke-width="0.9"/>
<line x1="434.98" y1="265.4" x2="434.98" y2="267.2" stroke="#555" stroke-width="0.7"/>
<line x1="447.26" y1="265.4" x2="447.26" y2="267.2" stroke="#555" stroke-width="0.7"/>
<text x="344.30" y="276.70" font-size="9.43" text-anchor="middle" fill="#1a1a1a" stroke="#1a1a1a" stroke-width="0.14" textLength="13.04" lengthAdjust="spacingAndGlyphs" >0.1</text>
<text x="414.00" y="276.70" font-size="9.43" text-anchor="middle" fill="#1a1a1a" stroke="#1a1a1a" stroke-width="0.14" textLength="5.22" lengthAdjust="spacingAndGlyphs" >1</text>
<line x1="327.40" y1="159.30" x2="330.00" y2="159.30" stroke="#555" stroke-width="0.9"/>
<text x="325.40" y="163.20" font-size="9.43" text-anchor="end" fill="#1a1a1a" stroke="#1a1a1a" stroke-width="0.14" textLength="15.65" lengthAdjust="spacingAndGlyphs" >200</text>
<line x1="327.40" y1="185.00" x2="330.00" y2="185.00" stroke="#555" stroke-width="0.9"/>
<text x="325.40" y="188.90" font-size="9.43" text-anchor="end" fill="#1a1a1a" stroke="#1a1a1a" stroke-width="0.14" textLength="15.65" lengthAdjust="spacingAndGlyphs" >150</text>
<line x1="327.40" y1="210.70" x2="330.00" y2="210.70" stroke="#555" stroke-width="0.9"/>
<text x="325.40" y="214.60" font-size="9.43" text-anchor="end" fill="#1a1a1a" stroke="#1a1a1a" stroke-width="0.14" textLength="15.65" lengthAdjust="spacingAndGlyphs" >100</text>
<line x1="327.40" y1="236.40" x2="330.00" y2="236.40" stroke="#555" stroke-width="0.9"/>
<text x="325.40" y="240.30" font-size="9.43" text-anchor="end" fill="#1a1a1a" stroke="#1a1a1a" stroke-width="0.14" textLength="10.43" lengthAdjust="spacingAndGlyphs" >50</text>
<line x1="327.40" y1="262.20" x2="330.00" y2="262.20" stroke="#555" stroke-width="0.9"/>
<text x="325.40" y="266.10" font-size="9.43" text-anchor="end" fill="#1a1a1a" stroke="#1a1a1a" stroke-width="0.14" textLength="5.22" lengthAdjust="spacingAndGlyphs" >0</text>
<text x="342.40" y="255.80" font-size="10.3" font-style="italic" fill="#ff0000">ρ</text>
<text x="348.20" y="257.30" font-size="6.90" text-anchor="start" fill="#ff0000" textLength="11.11" lengthAdjust="spacingAndGlyphs" >LAT</text>
<text x="363.00" y="255.80" font-size="9.72" text-anchor="start" fill="#ff0000" textLength="28.58" lengthAdjust="spacingAndGlyphs" >= 0.05</text>
<line x1="463.1" y1="173.7" x2="481.7" y2="173.7" stroke="#000" stroke-width="1.2" stroke-dasharray="3.3,1.6"/>
<text x="462.90" y="187.40" font-size="9.10" text-anchor="start" fill="#111" textLength="36.24" lengthAdjust="spacingAndGlyphs" >Average</text>
<text x="462.90" y="198.00" font-size="9.10" text-anchor="start" fill="#111" textLength="49.22" lengthAdjust="spacingAndGlyphs" >cluster size</text>
<text x="462.90" y="208.60" font-size="9.10" text-anchor="start" fill="#111" textLength="27.63" lengthAdjust="spacingAndGlyphs" >[# All]</text>
<line x1="463.1" y1="226.9" x2="481.7" y2="226.9" stroke="#000" stroke-width="1.3"/>
<circle cx="472.4" cy="226.9" r="2" fill="#000"/>
<text x="462.90" y="242.20" font-size="9.10" text-anchor="start" fill="#111" textLength="36.24" lengthAdjust="spacingAndGlyphs" >Average</text>
<text x="462.90" y="252.80" font-size="9.10" text-anchor="start" fill="#111" textLength="49.22" lengthAdjust="spacingAndGlyphs" >cluster size</text>
<text x="462.90" y="263.40" font-size="9.10" text-anchor="start" fill="#111" textLength="32.96" lengthAdjust="spacingAndGlyphs" >[# LAT]</text>
<text x="237.25" y="295.50" font-size="9.86" text-anchor="middle" fill="#111" stroke="#111" stroke-width="0.14" textLength="70.47" lengthAdjust="spacingAndGlyphs" ># PLCγ1 / # LAT</text>
<text x="-1.00" y="317.60" font-size="15.00" text-anchor="start" fill="#111" textLength="10.15" lengthAdjust="spacingAndGlyphs" >B</text>
<defs><clipPath id="cb1"><rect x="28.3" y="300" width="136.10" height="103.50"/></clipPath></defs><g clip-path="url(#cb1)">
<polygon points="28.30,351.00 30.58,351.00 48.82,349.50 55.32,349.10 73.56,346.00 88.04,343.10 98.31,340.70 106.27,338.20 112.78,335.90 118.28,333.60 123.05,332.10 131.02,328.60 137.52,324.30 155.76,315.60 162.27,313.70 164.40,313.70 164.40,403.50 28.30,403.50" fill="#c0c0c0"/>
<path d="M27.48,354.00V403.50M33.68,354.00V403.50" stroke="#dccfba" stroke-width="0.7" fill="none"/>
<rect x="28.28" y="351.00" width="4.60" height="16.90" fill="#0a9fff"/>
<rect x="28.28" y="367.90" width="4.60" height="16.40" fill="#055cff"/>
<rect x="28.28" y="384.30" width="4.60" height="16.40" fill="#0000ff"/>
<rect x="28.28" y="400.70" width="4.60" height="1.30" fill="#ffa500"/>
<rect x="28.28" y="402.00" width="4.60" height="1.50" fill="#ff7f00"/>
<rect x="29.88" y="350.70" width="1.40" height="1.40" fill="#000"/>
<rect x="29.88" y="367.60" width="1.40" height="1.40" fill="#000"/>
<rect x="29.88" y="384.00" width="1.40" height="1.40" fill="#000"/>
<rect x="29.88" y="400.40" width="1.40" height="1.40" fill="#000"/>
<rect x="29.88" y="401.70" width="1.40" height="1.40" fill="#000"/>
<path d="M45.72,352.50V403.50M51.92,352.50V403.50" stroke="#dccfba" stroke-width="0.7" fill="none"/>
<rect x="46.52" y="349.50" width="4.60" height="17.40" fill="#0a9fff"/>
<rect x="46.52" y="366.90" width="4.60" height="15.80" fill="#055cff"/>
<rect x="46.52" y="382.70" width="4.60" height="16.70" fill="#0000ff"/>
<rect x="46.52" y="399.40" width="4.60" height="1.30" fill="#ffa500"/>
<rect x="46.52" y="400.70" width="4.60" height="2.80" fill="#ff7f00"/>
<rect x="48.12" y="349.20" width="1.40" height="1.40" fill="#000"/>
<rect x="48.12" y="366.60" width="1.40" height="1.40" fill="#000"/>
<rect x="48.12" y="382.40" width="1.40" height="1.40" fill="#000"/>
<rect x="48.12" y="399.10" width="1.40" height="1.40" fill="#000"/>
<rect x="48.12" y="400.40" width="1.40" height="1.40" fill="#000"/>
<path d="M52.22,352.10V403.50M58.42,352.10V403.50" stroke="#dccfba" stroke-width="0.7" fill="none"/>
<rect x="53.02" y="349.10" width="4.60" height="17.20" fill="#0a9fff"/>
<rect x="53.02" y="366.30" width="4.60" height="16.10" fill="#055cff"/>
<rect x="53.02" y="382.40" width="4.60" height="16.40" fill="#0000ff"/>
<rect x="53.02" y="398.80" width="4.60" height="1.70" fill="#ffa500"/>
<rect x="53.02" y="400.50" width="4.60" height="3.00" fill="#ff7f00"/>
<rect x="54.62" y="348.80" width="1.40" height="1.40" fill="#000"/>
<rect x="54.62" y="366.00" width="1.40" height="1.40" fill="#000"/>
<rect x="54.62" y="382.10" width="1.40" height="1.40" fill="#000"/>
<rect x="54.62" y="398.50" width="1.40" height="1.40" fill="#000"/>
<rect x="54.62" y="400.20" width="1.40" height="1.40" fill="#000"/>
<path d="M70.46,349.00V403.50M76.66,349.00V403.50" stroke="#dccfba" stroke-width="0.7" fill="none"/>
<rect x="71.26" y="346.00" width="4.60" height="17.40" fill="#0a9fff"/>
<rect x="71.26" y="363.40" width="4.60" height="16.10" fill="#055cff"/>
<rect x="71.26" y="379.50" width="4.60" height="16.00" fill="#0000ff"/>
<rect x="71.26" y="395.50" width="4.60" height="1.90" fill="#ffa500"/>
<rect x="71.26" y="397.40" width="4.60" height="6.10" fill="#ff7f00"/>
<rect x="72.86" y="345.70" width="1.40" height="1.40" fill="#000"/>
<rect x="72.86" y="363.10" width="1.40" height="1.40" fill="#000"/>
<rect x="72.86" y="379.20" width="1.40" height="1.40" fill="#000"/>
<rect x="72.86" y="395.20" width="1.40" height="1.40" fill="#000"/>
<rect x="72.86" y="397.10" width="1.40" height="1.40" fill="#000"/>
<path d="M84.94,346.10V403.50M91.14,346.10V403.50" stroke="#dccfba" stroke-width="0.7" fill="none"/>
<rect x="85.74" y="343.10" width="4.60" height="17.00" fill="#0a9fff"/>
<rect x="85.74" y="360.10" width="4.60" height="16.50" fill="#055cff"/>
<rect x="85.74" y="376.60" width="4.60" height="15.40" fill="#0000ff"/>
<rect x="85.74" y="392.00" width="4.60" height="3.90" fill="#ffa500"/>
<rect x="85.74" y="395.90" width="4.60" height="7.60" fill="#ff7f00"/>
<rect x="87.34" y="342.80" width="1.40" height="1.40" fill="#000"/>
<rect x="87.34" y="359.80" width="1.40" height="1.40" fill="#000"/>
<rect x="87.34" y="376.30" width="1.40" height="1.40" fill="#000"/>
<rect x="87.34" y="391.70" width="1.40" height="1.40" fill="#000"/>
<rect x="87.34" y="395.60" width="1.40" height="1.40" fill="#000"/>
<path d="M95.21,343.70V403.50M101.41,343.70V403.50" stroke="#dccfba" stroke-width="0.7" fill="none"/>
<rect x="96.01" y="340.70" width="4.60" height="16.90" fill="#0a9fff"/>
<rect x="96.01" y="357.60" width="4.60" height="16.00" fill="#055cff"/>
<rect x="96.01" y="373.60" width="4.60" height="15.80" fill="#0000ff"/>
<rect x="96.01" y="389.40" width="4.60" height="5.50" fill="#ffa500"/>
<rect x="96.01" y="394.90" width="4.60" height="8.60" fill="#ff7f00"/>
<rect x="97.61" y="340.40" width="1.40" height="1.40" fill="#000"/>
<rect x="97.61" y="357.30" width="1.40" height="1.40" fill="#000"/>
<rect x="97.61" y="373.30" width="1.40" height="1.40" fill="#000"/>
<rect x="97.61" y="389.10" width="1.40" height="1.40" fill="#000"/>
<rect x="97.61" y="394.60" width="1.40" height="1.40" fill="#000"/>
<path d="M103.17,341.20V403.50M109.37,341.20V403.50" stroke="#dccfba" stroke-width="0.7" fill="none"/>
<rect x="103.97" y="338.20" width="4.60" height="17.40" fill="#0a9fff"/>
<rect x="103.97" y="355.60" width="4.60" height="16.10" fill="#055cff"/>
<rect x="103.97" y="371.70" width="4.60" height="14.50" fill="#0000ff"/>
<rect x="103.97" y="386.20" width="4.60" height="6.70" fill="#ffa500"/>
<rect x="103.97" y="392.90" width="4.60" height="10.60" fill="#ff7f00"/>
<rect x="105.57" y="337.90" width="1.40" height="1.40" fill="#000"/>
<rect x="105.57" y="355.30" width="1.40" height="1.40" fill="#000"/>
<rect x="105.57" y="371.40" width="1.40" height="1.40" fill="#000"/>
<rect x="105.57" y="385.90" width="1.40" height="1.40" fill="#000"/>
<rect x="105.57" y="392.60" width="1.40" height="1.40" fill="#000"/>
<path d="M109.68,338.90V403.50M115.88,338.90V403.50" stroke="#dccfba" stroke-width="0.7" fill="none"/>
<rect x="110.48" y="335.90" width="4.60" height="17.40" fill="#0a9fff"/>
<rect x="110.48" y="353.30" width="4.60" height="16.40" fill="#055cff"/>
<rect x="110.48" y="369.70" width="4.60" height="13.60" fill="#0000ff"/>
<rect x="110.48" y="383.30" width="4.60" height="8.30" fill="#ffa500"/>
<rect x="110.48" y="391.60" width="4.60" height="11.90" fill="#ff7f00"/>
<rect x="112.08" y="335.60" width="1.40" height="1.40" fill="#000"/>
<rect x="112.08" y="353.00" width="1.40" height="1.40" fill="#000"/>
<rect x="112.08" y="369.40" width="1.40" height="1.40" fill="#000"/>
<rect x="112.08" y="383.00" width="1.40" height="1.40" fill="#000"/>
<rect x="112.08" y="391.30" width="1.40" height="1.40" fill="#000"/>
<path d="M115.18,336.60V403.50M121.38,336.60V403.50" stroke="#dccfba" stroke-width="0.7" fill="none"/>
<rect x="115.98" y="333.60" width="4.60" height="17.40" fill="#0a9fff"/>
<rect x="115.98" y="351.00" width="4.60" height="16.80" fill="#055cff"/>
<rect x="115.98" y="367.80" width="4.60" height="12.90" fill="#0000ff"/>
<rect x="115.98" y="380.70" width="4.60" height="8.90" fill="#ffa500"/>
<rect x="115.98" y="389.60" width="4.60" height="13.90" fill="#ff7f00"/>
<rect x="117.58" y="333.30" width="1.40" height="1.40" fill="#000"/>
<rect x="117.58" y="350.70" width="1.40" height="1.40" fill="#000"/>
<rect x="117.58" y="367.50" width="1.40" height="1.40" fill="#000"/>
<rect x="117.58" y="380.40" width="1.40" height="1.40" fill="#000"/>
<rect x="117.58" y="389.30" width="1.40" height="1.40" fill="#000"/>
<path d="M119.95,335.10V403.50M126.15,335.10V403.50" stroke="#dccfba" stroke-width="0.7" fill="none"/>
<rect x="120.75" y="332.10" width="4.60" height="17.00" fill="#0a9fff"/>
<rect x="120.75" y="349.10" width="4.60" height="16.80" fill="#055cff"/>
<rect x="120.75" y="365.90" width="4.60" height="12.50" fill="#0000ff"/>
<rect x="120.75" y="378.40" width="4.60" height="9.70" fill="#ffa500"/>
<rect x="120.75" y="388.10" width="4.60" height="15.40" fill="#ff7f00"/>
<rect x="122.35" y="331.80" width="1.40" height="1.40" fill="#000"/>
<rect x="122.35" y="348.80" width="1.40" height="1.40" fill="#000"/>
<rect x="122.35" y="365.60" width="1.40" height="1.40" fill="#000"/>
<rect x="122.35" y="378.10" width="1.40" height="1.40" fill="#000"/>
<rect x="122.35" y="387.80" width="1.40" height="1.40" fill="#000"/>
<path d="M127.92,331.60V403.50M134.12,331.60V403.50" stroke="#dccfba" stroke-width="0.7" fill="none"/>
<rect x="128.72" y="328.60" width="4.60" height="17.40" fill="#0a9fff"/>
<rect x="128.72" y="346.00" width="4.60" height="16.40" fill="#055cff"/>
<rect x="128.72" y="362.40" width="4.60" height="11.80" fill="#0000ff"/>
<rect x="128.72" y="374.20" width="4.60" height="11.60" fill="#ffa500"/>
<rect x="128.72" y="385.80" width="4.60" height="17.70" fill="#ff7f00"/>
<rect x="130.32" y="328.30" width="1.40" height="1.40" fill="#000"/>
<rect x="130.32" y="345.70" width="1.40" height="1.40" fill="#000"/>
<rect x="130.32" y="362.10" width="1.40" height="1.40" fill="#000"/>
<rect x="130.32" y="373.90" width="1.40" height="1.40" fill="#000"/>
<rect x="130.32" y="385.50" width="1.40" height="1.40" fill="#000"/>
<path d="M134.42,327.30V403.50M140.62,327.30V403.50" stroke="#dccfba" stroke-width="0.7" fill="none"/>
<rect x="135.22" y="324.30" width="4.60" height="17.40" fill="#0a9fff"/>
<rect x="135.22" y="341.70" width="4.60" height="17.40" fill="#055cff"/>
<rect x="135.22" y="359.10" width="4.60" height="11.60" fill="#0000ff"/>
<rect x="135.22" y="370.70" width="4.60" height="12.60" fill="#ffa500"/>
<rect x="135.22" y="383.30" width="4.60" height="20.20" fill="#ff7f00"/>
<rect x="136.82" y="324.00" width="1.40" height="1.40" fill="#000"/>
<rect x="136.82" y="341.40" width="1.40" height="1.40" fill="#000"/>
<rect x="136.82" y="358.80" width="1.40" height="1.40" fill="#000"/>
<rect x="136.82" y="370.40" width="1.40" height="1.40" fill="#000"/>
<rect x="136.82" y="383.00" width="1.40" height="1.40" fill="#000"/>
<path d="M152.66,318.60V403.50M158.86,318.60V403.50" stroke="#dccfba" stroke-width="0.7" fill="none"/>
<rect x="153.46" y="315.60" width="4.60" height="19.90" fill="#0a9fff"/>
<rect x="153.46" y="335.50" width="4.60" height="17.40" fill="#055cff"/>
<rect x="153.46" y="352.90" width="4.60" height="9.70" fill="#0000ff"/>
<rect x="153.46" y="362.60" width="4.60" height="16.80" fill="#ffa500"/>
<rect x="153.46" y="379.40" width="4.60" height="24.10" fill="#ff7f00"/>
<rect x="155.06" y="315.30" width="1.40" height="1.40" fill="#000"/>
<rect x="155.06" y="335.20" width="1.40" height="1.40" fill="#000"/>
<rect x="155.06" y="352.60" width="1.40" height="1.40" fill="#000"/>
<rect x="155.06" y="362.30" width="1.40" height="1.40" fill="#000"/>
<rect x="155.06" y="379.10" width="1.40" height="1.40" fill="#000"/>
<path d="M159.17,316.70V403.50M165.37,316.70V403.50" stroke="#dccfba" stroke-width="0.7" fill="none"/>
<rect x="159.97" y="313.70" width="4.60" height="19.90" fill="#0a9fff"/>
<rect x="159.97" y="333.60" width="4.60" height="18.40" fill="#055cff"/>
<rect x="159.97" y="352.00" width="4.60" height="8.50" fill="#0000ff"/>
<rect x="159.97" y="360.50" width="4.60" height="17.50" fill="#ffa500"/>
<rect x="159.97" y="378.00" width="4.60" height="25.50" fill="#ff7f00"/>
<rect x="161.57" y="313.40" width="1.40" height="1.40" fill="#000"/>
<rect x="161.57" y="333.30" width="1.40" height="1.40" fill="#000"/>
<rect x="161.57" y="351.70" width="1.40" height="1.40" fill="#000"/>
<rect x="161.57" y="360.20" width="1.40" height="1.40" fill="#000"/>
<rect x="161.57" y="377.70" width="1.40" height="1.40" fill="#000"/>
</g>
<rect x="28.30" y="308.50" width="136.10" height="95.00" fill="none" stroke="#bcbcbc" stroke-width="0.9"/>
<line x1="25.90" y1="403.50" x2="28.30" y2="403.50" stroke="#bcbcbc" stroke-width="0.8"/>
<text x="25.00" y="406.20" font-size="7.36" text-anchor="end" fill="#1a1a1a" textLength="4.07" lengthAdjust="spacingAndGlyphs" >0</text>
<line x1="25.90" y1="377.40" x2="28.30" y2="377.40" stroke="#bcbcbc" stroke-width="0.8"/>
<text x="25.00" y="380.10" font-size="7.36" text-anchor="end" fill="#1a1a1a" textLength="4.07" lengthAdjust="spacingAndGlyphs" >1</text>
<line x1="25.90" y1="351.30" x2="28.30" y2="351.30" stroke="#bcbcbc" stroke-width="0.8"/>
<text x="25.00" y="354.00" font-size="7.36" text-anchor="end" fill="#1a1a1a" textLength="4.07" lengthAdjust="spacingAndGlyphs" >2</text>
<line x1="25.90" y1="325.20" x2="28.30" y2="325.20" stroke="#bcbcbc" stroke-width="0.8"/>
<text x="25.00" y="327.90" font-size="7.36" text-anchor="end" fill="#1a1a1a" textLength="4.07" lengthAdjust="spacingAndGlyphs" >3</text>
<line x1="32.88" y1="403.5" x2="32.88" y2="404.9" stroke="#bcbcbc" stroke-width="0.8"/>
<line x1="37.09" y1="403.5" x2="37.09" y2="404.9" stroke="#bcbcbc" stroke-width="0.8"/>
<line x1="40.85" y1="403.5" x2="40.85" y2="405.9" stroke="#bcbcbc" stroke-width="0.8"/>
<line x1="65.59" y1="403.5" x2="65.59" y2="404.9" stroke="#bcbcbc" stroke-width="0.8"/>
<line x1="80.07" y1="403.5" x2="80.07" y2="404.9" stroke="#bcbcbc" stroke-width="0.8"/>
<line x1="90.34" y1="403.5" x2="90.34" y2="404.9" stroke="#bcbcbc" stroke-width="0.8"/>
<line x1="98.31" y1="403.5" x2="98.31" y2="404.9" stroke="#bcbcbc" stroke-width="0.8"/>
<line x1="104.81" y1="403.5" x2="104.81" y2="404.9" stroke="#bcbcbc" stroke-width="0.8"/>
<line x1="110.32" y1="403.5" x2="110.32" y2="404.9" stroke="#bcbcbc" stroke-width="0.8"/>
<line x1="115.08" y1="403.5" x2="115.08" y2="404.9" stroke="#bcbcbc" stroke-width="0.8"/>
<line x1="119.29" y1="403.5" x2="119.29" y2="404.9" stroke="#bcbcbc" stroke-width="0.8"/>
<line x1="123.05" y1="403.5" x2="123.05" y2="405.9" stroke="#bcbcbc" stroke-width="0.8"/>
<line x1="147.79" y1="403.5" x2="147.79" y2="404.9" stroke="#bcbcbc" stroke-width="0.8"/>
<line x1="162.27" y1="403.5" x2="162.27" y2="404.9" stroke="#bcbcbc" stroke-width="0.8"/>
<text x="40.85" y="411.70" font-size="7.36" text-anchor="middle" fill="#1a1a1a" textLength="10.18" lengthAdjust="spacingAndGlyphs" >0.1</text>
<text x="123.05" y="411.70" font-size="7.36" text-anchor="middle" fill="#1a1a1a" textLength="4.07" lengthAdjust="spacingAndGlyphs" >1</text>
<text x="35.50" y="318.20" font-size="7.60" text-anchor="start" fill="#a8a8a8" textLength="13.82" lengthAdjust="spacingAndGlyphs" font-weight="bold" >LAT</text>
<rect x="169.7" y="358.5" width="91.8" height="45.3" fill="#c0c0c0"/>
<rect x="175.7" y="358.50" width="4.6" height="9.06" fill="#0a9fff"/>
<text x="185.60" y="366.00" font-size="6.70" text-anchor="start" fill="#1a1a1a" textLength="63.38" lengthAdjust="spacingAndGlyphs" >Grb2 SH2 - LAT pY226</text>
<rect x="175.7" y="367.56" width="4.6" height="9.06" fill="#055cff"/>
<text x="185.60" y="374.40" font-size="6.70" text-anchor="start" fill="#1a1a1a" textLength="63.38" lengthAdjust="spacingAndGlyphs" >Grb2 SH2 - LAT pY191</text>
<rect x="175.7" y="376.62" width="4.6" height="9.06" fill="#0000ff"/>
<text x="185.60" y="382.80" font-size="6.70" text-anchor="start" fill="#1a1a1a" textLength="63.38" lengthAdjust="spacingAndGlyphs" >Grb2 SH2 - LAT pY171</text>
<rect x="175.7" y="385.68" width="4.6" height="9.06" fill="#ffa500"/>
<text x="185.60" y="391.20" font-size="6.70" text-anchor="start" fill="#1a1a1a" textLength="70.10" lengthAdjust="spacingAndGlyphs" >PLCγ1 cSH2 - LAT pY171</text>
<rect x="175.7" y="394.74" width="4.6" height="9.06" fill="#ff7f00"/>
<text x="185.60" y="399.60" font-size="6.70" text-anchor="start" fill="#1a1a1a" textLength="70.58" lengthAdjust="spacingAndGlyphs" >PLCγ1 nSH2 - LAT pY132</text>
<defs><clipPath id="cb2"><rect x="286.6" y="300" width="136.80" height="103.30"/></clipPath></defs><g clip-path="url(#cb2)">
<polygon points="286.60,315.60 288.83,315.60 307.07,319.50 313.57,322.00 331.81,324.30 346.29,324.30 356.56,328.20 364.52,330.10 371.03,331.10 376.53,335.00 381.30,335.90 389.27,339.80 395.77,342.10 414.01,352.40 420.52,357.20 423.40,357.20 423.40,403.30 286.60,403.30" fill="#f3bdf3"/>
<polygon points="286.60,348.50 288.83,348.50 307.07,353.30 313.57,356.20 331.81,357.20 346.29,358.20 356.56,361.10 364.52,362.00 371.03,363.00 376.53,364.50 381.30,365.30 389.27,368.80 395.77,370.70 414.01,379.40 420.52,381.40 423.40,381.40 423.40,403.30 286.60,403.30" fill="#c0c0c0"/>
<path d="M285.73,350.50V403.30M291.93,350.50V403.30" stroke="#dccfba" stroke-width="0.7" fill="none"/>
<rect x="286.53" y="315.60" width="4.60" height="32.90" fill="#ffff00"/>
<rect x="286.53" y="348.50" width="4.60" height="27.10" fill="#ffa500"/>
<rect x="286.53" y="375.60" width="4.60" height="27.70" fill="#ff8000"/>
<line x1="288.83" y1="311.80" x2="288.83" y2="349.00" stroke="#1a1a1a" stroke-width="1.4" stroke-dasharray="4,1.5"/>
<line x1="288.83" y1="371.10" x2="288.83" y2="376.60" stroke="#1a1a1a" stroke-width="1.3"/>
<path d="M303.97,355.30V403.30M310.17,355.30V403.30" stroke="#dccfba" stroke-width="0.7" fill="none"/>
<rect x="304.77" y="319.50" width="4.60" height="33.80" fill="#ffff00"/>
<rect x="304.77" y="353.30" width="4.60" height="23.60" fill="#ffa500"/>
<rect x="304.77" y="376.90" width="4.60" height="26.40" fill="#ff8000"/>
<line x1="307.07" y1="315.70" x2="307.07" y2="353.80" stroke="#1a1a1a" stroke-width="1.4" stroke-dasharray="4,1.5"/>
<line x1="307.07" y1="372.40" x2="307.07" y2="377.90" stroke="#1a1a1a" stroke-width="1.3"/>
<path d="M310.47,358.20V403.30M316.67,358.20V403.30" stroke="#dccfba" stroke-width="0.7" fill="none"/>
<rect x="311.27" y="322.00" width="4.60" height="34.20" fill="#ffff00"/>
<rect x="311.27" y="356.20" width="4.60" height="20.70" fill="#ffa500"/>
<rect x="311.27" y="376.90" width="4.60" height="26.40" fill="#ff8000"/>
<line x1="313.57" y1="318.20" x2="313.57" y2="356.70" stroke="#1a1a1a" stroke-width="1.4" stroke-dasharray="4,1.5"/>
<line x1="313.57" y1="372.40" x2="313.57" y2="377.90" stroke="#1a1a1a" stroke-width="1.3"/>
<path d="M328.71,359.20V403.30M334.91,359.20V403.30" stroke="#dccfba" stroke-width="0.7" fill="none"/>
<rect x="329.51" y="324.30" width="4.60" height="32.90" fill="#ffff00"/>
<rect x="329.51" y="357.20" width="4.60" height="19.70" fill="#ffa500"/>
<rect x="329.51" y="376.90" width="4.60" height="26.40" fill="#ff8000"/>
<line x1="331.81" y1="320.50" x2="331.81" y2="357.70" stroke="#1a1a1a" stroke-width="1.4" stroke-dasharray="4,1.5"/>
<line x1="331.81" y1="372.40" x2="331.81" y2="377.90" stroke="#1a1a1a" stroke-width="1.3"/>
<path d="M343.19,360.20V403.30M349.39,360.20V403.30" stroke="#dccfba" stroke-width="0.7" fill="none"/>
<rect x="343.99" y="324.30" width="4.60" height="33.90" fill="#ffff00"/>
<rect x="343.99" y="358.20" width="4.60" height="18.40" fill="#ffa500"/>
<rect x="343.99" y="376.60" width="4.60" height="26.70" fill="#ff8000"/>
<line x1="346.29" y1="320.50" x2="346.29" y2="358.70" stroke="#1a1a1a" stroke-width="1.4" stroke-dasharray="4,1.5"/>
<line x1="346.29" y1="372.10" x2="346.29" y2="377.60" stroke="#1a1a1a" stroke-width="1.3"/>
<path d="M353.46,363.10V403.30M359.66,363.10V403.30" stroke="#dccfba" stroke-width="0.7" fill="none"/>
<rect x="354.26" y="328.20" width="4.60" height="32.90" fill="#ffff00"/>
<rect x="354.26" y="361.10" width="4.60" height="17.40" fill="#ffa500"/>
<rect x="354.26" y="378.50" width="4.60" height="24.80" fill="#ff8000"/>
<rect x="355.91" y="327.60" width="1.3" height="2.8" fill="#1a1a1a"/>
<rect x="355.91" y="335.43" width="1.3" height="2.8" fill="#1a1a1a"/>
<rect x="355.91" y="343.25" width="1.3" height="2.8" fill="#1a1a1a"/>
<rect x="355.91" y="351.08" width="1.3" height="2.8" fill="#1a1a1a"/>
<rect x="355.91" y="358.90" width="1.3" height="2.8" fill="#1a1a1a"/>
<rect x="355.91" y="377.10" width="1.3" height="2.8" fill="#1a1a1a"/>
<path d="M361.42,364.00V403.30M367.62,364.00V403.30" stroke="#dccfba" stroke-width="0.7" fill="none"/>
<rect x="362.22" y="330.10" width="4.60" height="31.90" fill="#ffff00"/>
<rect x="362.22" y="362.00" width="4.60" height="16.80" fill="#ffa500"/>
<rect x="362.22" y="378.80" width="4.60" height="24.50" fill="#ff8000"/>
<rect x="363.87" y="329.50" width="1.3" height="2.8" fill="#1a1a1a"/>
<rect x="363.87" y="337.08" width="1.3" height="2.8" fill="#1a1a1a"/>
<rect x="363.87" y="344.65" width="1.3" height="2.8" fill="#1a1a1a"/>
<rect x="363.87" y="352.23" width="1.3" height="2.8" fill="#1a1a1a"/>
<rect x="363.87" y="359.80" width="1.3" height="2.8" fill="#1a1a1a"/>
<rect x="363.87" y="377.40" width="1.3" height="2.8" fill="#1a1a1a"/>
<path d="M367.93,365.00V403.30M374.13,365.00V403.30" stroke="#dccfba" stroke-width="0.7" fill="none"/>
<rect x="368.73" y="331.10" width="4.60" height="31.90" fill="#ffff00"/>
<rect x="368.73" y="363.00" width="4.60" height="16.40" fill="#ffa500"/>
<rect x="368.73" y="379.40" width="4.60" height="23.90" fill="#ff8000"/>
<rect x="370.38" y="330.50" width="1.3" height="2.8" fill="#1a1a1a"/>
<rect x="370.38" y="338.08" width="1.3" height="2.8" fill="#1a1a1a"/>
<rect x="370.38" y="345.65" width="1.3" height="2.8" fill="#1a1a1a"/>
<rect x="370.38" y="353.23" width="1.3" height="2.8" fill="#1a1a1a"/>
<rect x="370.38" y="360.80" width="1.3" height="2.8" fill="#1a1a1a"/>
<rect x="370.38" y="378.00" width="1.3" height="2.8" fill="#1a1a1a"/>
<path d="M373.43,366.50V403.30M379.63,366.50V403.30" stroke="#dccfba" stroke-width="0.7" fill="none"/>
<rect x="374.23" y="335.00" width="4.60" height="29.50" fill="#ffff00"/>
<rect x="374.23" y="364.50" width="4.60" height="15.50" fill="#ffa500"/>
<rect x="374.23" y="380.00" width="4.60" height="23.30" fill="#ff8000"/>
<rect x="375.88" y="334.40" width="1.3" height="2.8" fill="#1a1a1a"/>
<rect x="375.88" y="341.38" width="1.3" height="2.8" fill="#1a1a1a"/>
<rect x="375.88" y="348.35" width="1.3" height="2.8" fill="#1a1a1a"/>
<rect x="375.88" y="355.33" width="1.3" height="2.8" fill="#1a1a1a"/>
<rect x="375.88" y="362.30" width="1.3" height="2.8" fill="#1a1a1a"/>
<rect x="375.88" y="378.60" width="1.3" height="2.8" fill="#1a1a1a"/>
<path d="M378.20,367.30V403.30M384.40,367.30V403.30" stroke="#dccfba" stroke-width="0.7" fill="none"/>
<rect x="379.00" y="335.90" width="4.60" height="29.40" fill="#ffff00"/>
<rect x="379.00" y="365.30" width="4.60" height="15.50" fill="#ffa500"/>
<rect x="379.00" y="380.80" width="4.60" height="22.50" fill="#ff8000"/>
<rect x="380.65" y="335.30" width="1.3" height="2.8" fill="#1a1a1a"/>
<rect x="380.65" y="342.25" width="1.3" height="2.8" fill="#1a1a1a"/>
<rect x="380.65" y="349.20" width="1.3" height="2.8" fill="#1a1a1a"/>
<rect x="380.65" y="356.15" width="1.3" height="2.8" fill="#1a1a1a"/>
<rect x="380.65" y="363.10" width="1.3" height="2.8" fill="#1a1a1a"/>
<rect x="380.65" y="379.40" width="1.3" height="2.8" fill="#1a1a1a"/>
<path d="M386.17,370.80V403.30M392.37,370.80V403.30" stroke="#dccfba" stroke-width="0.7" fill="none"/>
<rect x="386.97" y="339.80" width="4.60" height="29.00" fill="#ffff00"/>
<rect x="386.97" y="368.80" width="4.60" height="13.50" fill="#ffa500"/>
<rect x="386.97" y="382.30" width="4.60" height="21.00" fill="#ff8000"/>
<rect x="388.62" y="339.20" width="1.3" height="2.8" fill="#1a1a1a"/>
<rect x="388.62" y="346.05" width="1.3" height="2.8" fill="#1a1a1a"/>
<rect x="388.62" y="352.90" width="1.3" height="2.8" fill="#1a1a1a"/>
<rect x="388.62" y="359.75" width="1.3" height="2.8" fill="#1a1a1a"/>
<rect x="388.62" y="366.60" width="1.3" height="2.8" fill="#1a1a1a"/>
<rect x="388.62" y="380.90" width="1.3" height="2.8" fill="#1a1a1a"/>
<path d="M392.67,372.70V403.30M398.87,372.70V403.30" stroke="#dccfba" stroke-width="0.7" fill="none"/>
<rect x="393.47" y="342.10" width="4.60" height="28.60" fill="#ffff00"/>
<rect x="393.47" y="370.70" width="4.60" height="12.60" fill="#ffa500"/>
<rect x="393.47" y="383.30" width="4.60" height="20.00" fill="#ff8000"/>
<rect x="395.12" y="341.50" width="1.3" height="2.8" fill="#1a1a1a"/>
<rect x="395.12" y="348.25" width="1.3" height="2.8" fill="#1a1a1a"/>
<rect x="395.12" y="355.00" width="1.3" height="2.8" fill="#1a1a1a"/>
<rect x="395.12" y="361.75" width="1.3" height="2.8" fill="#1a1a1a"/>
<rect x="395.12" y="368.50" width="1.3" height="2.8" fill="#1a1a1a"/>
<rect x="395.12" y="381.90" width="1.3" height="2.8" fill="#1a1a1a"/>
<path d="M410.91,381.40V403.30M417.11,381.40V403.30" stroke="#dccfba" stroke-width="0.7" fill="none"/>
<rect x="411.71" y="352.40" width="4.60" height="27.00" fill="#ffff00"/>
<rect x="411.71" y="379.40" width="4.60" height="9.70" fill="#ffa500"/>
<rect x="411.71" y="389.10" width="4.60" height="14.20" fill="#ff8000"/>
<rect x="413.36" y="352.55" width="1.30" height="1.30" fill="#000"/>
<rect x="413.36" y="358.90" width="1.30" height="1.30" fill="#000"/>
<rect x="413.36" y="365.25" width="1.30" height="1.30" fill="#000"/>
<rect x="413.36" y="371.60" width="1.30" height="1.30" fill="#000"/>
<rect x="413.36" y="377.95" width="1.30" height="1.30" fill="#000"/>
<rect x="413.36" y="388.45" width="1.30" height="1.30" fill="#000"/>
<path d="M417.42,383.40V403.30M423.62,383.40V403.30" stroke="#dccfba" stroke-width="0.7" fill="none"/>
<rect x="418.22" y="357.20" width="4.60" height="24.20" fill="#ffff00"/>
<rect x="418.22" y="381.40" width="4.60" height="8.60" fill="#ffa500"/>
<rect x="418.22" y="390.00" width="4.60" height="13.30" fill="#ff8000"/>
<rect x="419.87" y="357.35" width="1.30" height="1.30" fill="#000"/>
<rect x="419.87" y="363.00" width="1.30" height="1.30" fill="#000"/>
<rect x="419.87" y="368.65" width="1.30" height="1.30" fill="#000"/>
<rect x="419.87" y="374.30" width="1.30" height="1.30" fill="#000"/>
<rect x="419.87" y="379.95" width="1.30" height="1.30" fill="#000"/>
<rect x="419.87" y="389.35" width="1.30" height="1.30" fill="#000"/>
</g>
<rect x="286.60" y="308.50" width="136.80" height="94.80" fill="none" stroke="#bcbcbc" stroke-width="0.9"/>
<line x1="284.20" y1="403.30" x2="286.60" y2="403.30" stroke="#bcbcbc" stroke-width="0.8"/>
<text x="283.30" y="406.00" font-size="7.36" text-anchor="end" fill="#1a1a1a" textLength="10.18" lengthAdjust="spacingAndGlyphs" >0.0</text>
<line x1="284.20" y1="384.50" x2="286.60" y2="384.50" stroke="#bcbcbc" stroke-width="0.8"/>
<text x="283.30" y="387.20" font-size="7.36" text-anchor="end" fill="#1a1a1a" textLength="10.18" lengthAdjust="spacingAndGlyphs" >0.5</text>
<line x1="284.20" y1="365.00" x2="286.60" y2="365.00" stroke="#bcbcbc" stroke-width="0.8"/>
<text x="283.30" y="367.70" font-size="7.36" text-anchor="end" fill="#1a1a1a" textLength="10.18" lengthAdjust="spacingAndGlyphs" >1.0</text>
<line x1="284.20" y1="345.60" x2="286.60" y2="345.60" stroke="#bcbcbc" stroke-width="0.8"/>
<text x="283.30" y="348.30" font-size="7.36" text-anchor="end" fill="#1a1a1a" textLength="10.18" lengthAdjust="spacingAndGlyphs" >1.5</text>
<line x1="284.20" y1="326.10" x2="286.60" y2="326.10" stroke="#bcbcbc" stroke-width="0.8"/>
<text x="283.30" y="328.80" font-size="7.36" text-anchor="end" fill="#1a1a1a" textLength="10.18" lengthAdjust="spacingAndGlyphs" >2.0</text>
<line x1="291.13" y1="403.3" x2="291.13" y2="404.7" stroke="#bcbcbc" stroke-width="0.8"/>
<line x1="295.34" y1="403.3" x2="295.34" y2="404.7" stroke="#bcbcbc" stroke-width="0.8"/>
<line x1="299.10" y1="403.3" x2="299.10" y2="405.7" stroke="#bcbcbc" stroke-width="0.8"/>
<line x1="323.84" y1="403.3" x2="323.84" y2="404.7" stroke="#bcbcbc" stroke-width="0.8"/>
<line x1="338.32" y1="403.3" x2="338.32" y2="404.7" stroke="#bcbcbc" stroke-width="0.8"/>
<line x1="348.59" y1="403.3" x2="348.59" y2="404.7" stroke="#bcbcbc" stroke-width="0.8"/>
<line x1="356.56" y1="403.3" x2="356.56" y2="404.7" stroke="#bcbcbc" stroke-width="0.8"/>
<line x1="363.06" y1="403.3" x2="363.06" y2="404.7" stroke="#bcbcbc" stroke-width="0.8"/>
<line x1="368.57" y1="403.3" x2="368.57" y2="404.7" stroke="#bcbcbc" stroke-width="0.8"/>
<line x1="373.33" y1="403.3" x2="373.33" y2="404.7" stroke="#bcbcbc" stroke-width="0.8"/>
<line x1="377.54" y1="403.3" x2="377.54" y2="404.7" stroke="#bcbcbc" stroke-width="0.8"/>
<line x1="381.30" y1="403.3" x2="381.30" y2="405.7" stroke="#bcbcbc" stroke-width="0.8"/>
<line x1="406.04" y1="403.3" x2="406.04" y2="404.7" stroke="#bcbcbc" stroke-width="0.8"/>
<line x1="420.52" y1="403.3" x2="420.52" y2="404.7" stroke="#bcbcbc" stroke-width="0.8"/>
<text x="299.10" y="411.50" font-size="7.36" text-anchor="middle" fill="#1a1a1a" textLength="10.18" lengthAdjust="spacingAndGlyphs" >0.1</text>
<text x="381.30" y="411.50" font-size="7.36" text-anchor="middle" fill="#1a1a1a" textLength="4.07" lengthAdjust="spacingAndGlyphs" >1</text>
<text x="392.90" y="318.20" font-size="7.60" text-anchor="start" fill="#f5c800" textLength="22.97" lengthAdjust="spacingAndGlyphs" font-weight="bold" >PLCγ1</text>
<rect x="428.1" y="373.3" width="92" height="11.7" fill="#f3bdf3"/>
<rect x="428.1" y="385" width="92" height="18.5" fill="#c0c0c0"/>
<rect x="434.4" y="373.3" width="4.3" height="11" fill="#ffff00"/>
<rect x="434.4" y="384.3" width="4.3" height="9.2" fill="#ffa500"/>
<rect x="434.4" y="393.5" width="4.3" height="10" fill="#ff8000"/>
<text x="443.70" y="382.20" font-size="6.70" text-anchor="start" fill="#1a1a1a" textLength="50.32" lengthAdjust="spacingAndGlyphs" >Sos1 - PLCγ1 SH3</text>
<text x="443.70" y="392.30" font-size="6.70" text-anchor="start" fill="#1a1a1a" textLength="70.10" lengthAdjust="spacingAndGlyphs" >LAT pY171 - PLCγ1 cSH2</text>
<text x="443.70" y="400.80" font-size="6.70" text-anchor="start" fill="#1a1a1a" textLength="70.58" lengthAdjust="spacingAndGlyphs" >LAT pY132 - PLCγ1 nSH2</text>
<defs><linearGradient id="gcb" x1="0" y1="0" x2="0" y2="1"><stop offset="0" stop-color="#00ffff"/><stop offset="0.25" stop-color="#00eeff"/><stop offset="1" stop-color="#1e90ff"/></linearGradient><linearGradient id="gyo" x1="0" y1="0" x2="0" y2="1"><stop offset="0" stop-color="#ffff00"/><stop offset="1" stop-color="#ffc800"/></linearGradient></defs>
<defs><clipPath id="cb3"><rect x="28.3" y="415" width="136.20" height="103.00"/></clipPath></defs><g clip-path="url(#cb3)">
<polygon points="28.30,448.40 30.58,448.40 48.82,447.00 55.32,447.00 73.56,446.80 88.04,446.40 98.31,445.00 106.27,444.40 112.78,443.00 118.28,442.00 123.05,441.30 131.02,438.90 137.52,437.30 155.76,430.20 162.27,427.20 164.50,427.20 164.50,518.00 28.30,518.00" fill="#f3bdf3"/>
<path d="M27.48,450.40V518.00M33.68,450.40V518.00" stroke="#dccfba" stroke-width="0.7" fill="none"/>
<rect x="28.28" y="448.40" width="4.60" height="67.60" fill="url(#gcb)"/>
<rect x="28.28" y="516.00" width="4.60" height="2.00" fill="url(#gyo)"/>
<rect x="29.93" y="448.75" width="1.30" height="1.30" fill="#000"/>
<rect x="29.93" y="460.02" width="1.30" height="1.30" fill="#000"/>
<rect x="29.93" y="471.28" width="1.30" height="1.30" fill="#000"/>
<rect x="29.93" y="482.55" width="1.30" height="1.30" fill="#000"/>
<rect x="29.93" y="493.82" width="1.30" height="1.30" fill="#000"/>
<rect x="29.93" y="505.08" width="1.30" height="1.30" fill="#000"/>
<rect x="29.93" y="516.35" width="1.30" height="1.30" fill="#000"/>
<path d="M45.72,449.00V518.00M51.92,449.00V518.00" stroke="#dccfba" stroke-width="0.7" fill="none"/>
<rect x="46.52" y="447.00" width="4.60" height="68.10" fill="url(#gcb)"/>
<rect x="46.52" y="515.10" width="4.60" height="2.90" fill="url(#gyo)"/>
<rect x="48.17" y="447.35" width="1.30" height="1.30" fill="#000"/>
<rect x="48.17" y="458.85" width="1.30" height="1.30" fill="#000"/>
<rect x="48.17" y="470.35" width="1.30" height="1.30" fill="#000"/>
<rect x="48.17" y="481.85" width="1.30" height="1.30" fill="#000"/>
<rect x="48.17" y="493.35" width="1.30" height="1.30" fill="#000"/>
<rect x="48.17" y="504.85" width="1.30" height="1.30" fill="#000"/>
<rect x="48.17" y="516.35" width="1.30" height="1.30" fill="#000"/>
<path d="M52.22,449.00V518.00M58.42,449.00V518.00" stroke="#dccfba" stroke-width="0.7" fill="none"/>
<rect x="53.02" y="447.00" width="4.60" height="67.50" fill="url(#gcb)"/>
<rect x="53.02" y="514.50" width="4.60" height="3.50" fill="url(#gyo)"/>
<rect x="54.67" y="447.35" width="1.30" height="1.30" fill="#000"/>
<rect x="54.67" y="458.85" width="1.30" height="1.30" fill="#000"/>
<rect x="54.67" y="470.35" width="1.30" height="1.30" fill="#000"/>
<rect x="54.67" y="481.85" width="1.30" height="1.30" fill="#000"/>
<rect x="54.67" y="493.35" width="1.30" height="1.30" fill="#000"/>
<rect x="54.67" y="504.85" width="1.30" height="1.30" fill="#000"/>
<rect x="54.67" y="516.35" width="1.30" height="1.30" fill="#000"/>
<path d="M70.46,448.80V518.00M76.66,448.80V518.00" stroke="#dccfba" stroke-width="0.7" fill="none"/>
<rect x="71.26" y="446.80" width="4.60" height="65.90" fill="url(#gcb)"/>
<rect x="71.26" y="512.70" width="4.60" height="5.30" fill="url(#gyo)"/>
<rect x="72.91" y="447.15" width="1.30" height="1.30" fill="#000"/>
<rect x="72.91" y="458.68" width="1.30" height="1.30" fill="#000"/>
<rect x="72.91" y="470.22" width="1.30" height="1.30" fill="#000"/>
<rect x="72.91" y="481.75" width="1.30" height="1.30" fill="#000"/>
<rect x="72.91" y="493.28" width="1.30" height="1.30" fill="#000"/>
<rect x="72.91" y="504.82" width="1.30" height="1.30" fill="#000"/>
<rect x="72.91" y="516.35" width="1.30" height="1.30" fill="#000"/>
<path d="M84.94,448.40V518.00M91.14,448.40V518.00" stroke="#dccfba" stroke-width="0.7" fill="none"/>
<rect x="85.74" y="446.40" width="4.60" height="64.10" fill="url(#gcb)"/>
<rect x="85.74" y="510.50" width="4.60" height="7.50" fill="url(#gyo)"/>
<rect x="87.39" y="446.75" width="1.30" height="1.30" fill="#000"/>
<rect x="87.39" y="458.35" width="1.30" height="1.30" fill="#000"/>
<rect x="87.39" y="469.95" width="1.30" height="1.30" fill="#000"/>
<rect x="87.39" y="481.55" width="1.30" height="1.30" fill="#000"/>
<rect x="87.39" y="493.15" width="1.30" height="1.30" fill="#000"/>
<rect x="87.39" y="504.75" width="1.30" height="1.30" fill="#000"/>
<rect x="87.39" y="516.35" width="1.30" height="1.30" fill="#000"/>
<path d="M95.21,447.00V518.00M101.41,447.00V518.00" stroke="#dccfba" stroke-width="0.7" fill="none"/>
<rect x="96.01" y="445.00" width="4.60" height="63.60" fill="url(#gcb)"/>
<rect x="96.01" y="508.60" width="4.60" height="9.40" fill="url(#gyo)"/>
<rect x="97.66" y="445.35" width="1.30" height="1.30" fill="#000"/>
<rect x="97.66" y="455.49" width="1.30" height="1.30" fill="#000"/>
<rect x="97.66" y="465.64" width="1.30" height="1.30" fill="#000"/>
<rect x="97.66" y="475.78" width="1.30" height="1.30" fill="#000"/>
<rect x="97.66" y="485.92" width="1.30" height="1.30" fill="#000"/>
<rect x="97.66" y="496.06" width="1.30" height="1.30" fill="#000"/>
<rect x="97.66" y="506.21" width="1.30" height="1.30" fill="#000"/>
<rect x="97.66" y="516.35" width="1.30" height="1.30" fill="#000"/>
<path d="M103.17,446.40V518.00M109.37,446.40V518.00" stroke="#dccfba" stroke-width="0.7" fill="none"/>
<rect x="103.97" y="444.40" width="4.60" height="62.10" fill="url(#gcb)"/>
<rect x="103.97" y="506.50" width="4.60" height="11.50" fill="url(#gyo)"/>
<rect x="105.62" y="444.75" width="1.30" height="1.30" fill="#000"/>
<rect x="105.62" y="454.98" width="1.30" height="1.30" fill="#000"/>
<rect x="105.62" y="465.21" width="1.30" height="1.30" fill="#000"/>
<rect x="105.62" y="475.44" width="1.30" height="1.30" fill="#000"/>
<rect x="105.62" y="485.66" width="1.30" height="1.30" fill="#000"/>
<rect x="105.62" y="495.89" width="1.30" height="1.30" fill="#000"/>
<rect x="105.62" y="506.12" width="1.30" height="1.30" fill="#000"/>
<rect x="105.62" y="516.35" width="1.30" height="1.30" fill="#000"/>
<path d="M109.68,445.00V518.00M115.88,445.00V518.00" stroke="#dccfba" stroke-width="0.7" fill="none"/>
<rect x="110.48" y="443.00" width="4.60" height="61.50" fill="url(#gcb)"/>
<rect x="110.48" y="504.50" width="4.60" height="13.50" fill="url(#gyo)"/>
<rect x="112.13" y="443.35" width="1.30" height="1.30" fill="#000"/>
<rect x="112.13" y="453.78" width="1.30" height="1.30" fill="#000"/>
<rect x="112.13" y="464.21" width="1.30" height="1.30" fill="#000"/>
<rect x="112.13" y="474.64" width="1.30" height="1.30" fill="#000"/>
<rect x="112.13" y="485.06" width="1.30" height="1.30" fill="#000"/>
<rect x="112.13" y="495.49" width="1.30" height="1.30" fill="#000"/>
<rect x="112.13" y="505.92" width="1.30" height="1.30" fill="#000"/>
<rect x="112.13" y="516.35" width="1.30" height="1.30" fill="#000"/>
<path d="M115.18,444.00V518.00M121.38,444.00V518.00" stroke="#dccfba" stroke-width="0.7" fill="none"/>
<rect x="115.98" y="442.00" width="4.60" height="60.50" fill="url(#gcb)"/>
<rect x="115.98" y="502.50" width="4.60" height="15.50" fill="url(#gyo)"/>
<rect x="117.63" y="442.35" width="1.30" height="1.30" fill="#000"/>
<rect x="117.63" y="452.92" width="1.30" height="1.30" fill="#000"/>
<rect x="117.63" y="463.49" width="1.30" height="1.30" fill="#000"/>
<rect x="117.63" y="474.06" width="1.30" height="1.30" fill="#000"/>
<rect x="117.63" y="484.64" width="1.30" height="1.30" fill="#000"/>
<rect x="117.63" y="495.21" width="1.30" height="1.30" fill="#000"/>
<rect x="117.63" y="505.78" width="1.30" height="1.30" fill="#000"/>
<rect x="117.63" y="516.35" width="1.30" height="1.30" fill="#000"/>
<path d="M119.95,443.30V518.00M126.15,443.30V518.00" stroke="#dccfba" stroke-width="0.7" fill="none"/>
<rect x="120.75" y="441.30" width="4.60" height="59.20" fill="url(#gcb)"/>
<rect x="120.75" y="500.50" width="4.60" height="17.50" fill="url(#gyo)"/>
<rect x="122.40" y="441.65" width="1.30" height="1.30" fill="#000"/>
<rect x="122.40" y="452.32" width="1.30" height="1.30" fill="#000"/>
<rect x="122.40" y="462.99" width="1.30" height="1.30" fill="#000"/>
<rect x="122.40" y="473.66" width="1.30" height="1.30" fill="#000"/>
<rect x="122.40" y="484.34" width="1.30" height="1.30" fill="#000"/>
<rect x="122.40" y="495.01" width="1.30" height="1.30" fill="#000"/>
<rect x="122.40" y="505.68" width="1.30" height="1.30" fill="#000"/>
<rect x="122.40" y="516.35" width="1.30" height="1.30" fill="#000"/>
<path d="M127.92,440.90V518.00M134.12,440.90V518.00" stroke="#dccfba" stroke-width="0.7" fill="none"/>
<rect x="128.72" y="438.90" width="4.60" height="57.70" fill="url(#gcb)"/>
<rect x="128.72" y="496.60" width="4.60" height="21.40" fill="url(#gyo)"/>
<rect x="130.37" y="439.25" width="1.30" height="1.30" fill="#000"/>
<rect x="130.37" y="450.26" width="1.30" height="1.30" fill="#000"/>
<rect x="130.37" y="461.28" width="1.30" height="1.30" fill="#000"/>
<rect x="130.37" y="472.29" width="1.30" height="1.30" fill="#000"/>
<rect x="130.37" y="483.31" width="1.30" height="1.30" fill="#000"/>
<rect x="130.37" y="494.32" width="1.30" height="1.30" fill="#000"/>
<rect x="130.37" y="505.34" width="1.30" height="1.30" fill="#000"/>
<rect x="130.37" y="516.35" width="1.30" height="1.30" fill="#000"/>
<path d="M134.42,439.30V518.00M140.62,439.30V518.00" stroke="#dccfba" stroke-width="0.7" fill="none"/>
<rect x="135.22" y="437.30" width="4.60" height="55.70" fill="url(#gcb)"/>
<rect x="135.22" y="493.00" width="4.60" height="25.00" fill="url(#gyo)"/>
<rect x="136.87" y="437.65" width="1.30" height="1.30" fill="#000"/>
<rect x="136.87" y="448.89" width="1.30" height="1.30" fill="#000"/>
<rect x="136.87" y="460.14" width="1.30" height="1.30" fill="#000"/>
<rect x="136.87" y="471.38" width="1.30" height="1.30" fill="#000"/>
<rect x="136.87" y="482.62" width="1.30" height="1.30" fill="#000"/>
<rect x="136.87" y="493.86" width="1.30" height="1.30" fill="#000"/>
<rect x="136.87" y="505.11" width="1.30" height="1.30" fill="#000"/>
<rect x="136.87" y="516.35" width="1.30" height="1.30" fill="#000"/>
<path d="M152.66,432.20V518.00M158.86,432.20V518.00" stroke="#dccfba" stroke-width="0.7" fill="none"/>
<rect x="153.46" y="430.20" width="4.60" height="48.60" fill="url(#gcb)"/>
<rect x="153.46" y="478.80" width="4.60" height="39.20" fill="url(#gyo)"/>
<rect x="155.11" y="430.55" width="1.30" height="1.30" fill="#000"/>
<rect x="155.11" y="441.28" width="1.30" height="1.30" fill="#000"/>
<rect x="155.11" y="452.00" width="1.30" height="1.30" fill="#000"/>
<rect x="155.11" y="462.73" width="1.30" height="1.30" fill="#000"/>
<rect x="155.11" y="473.45" width="1.30" height="1.30" fill="#000"/>
<rect x="155.11" y="484.18" width="1.30" height="1.30" fill="#000"/>
<rect x="155.11" y="494.90" width="1.30" height="1.30" fill="#000"/>
<rect x="155.11" y="505.62" width="1.30" height="1.30" fill="#000"/>
<rect x="155.11" y="516.35" width="1.30" height="1.30" fill="#000"/>
<path d="M159.17,429.20V518.00M165.37,429.20V518.00" stroke="#dccfba" stroke-width="0.7" fill="none"/>
<rect x="159.97" y="427.20" width="4.60" height="46.90" fill="url(#gcb)"/>
<rect x="159.97" y="474.10" width="4.60" height="43.90" fill="url(#gyo)"/>
<rect x="161.62" y="427.55" width="1.30" height="1.30" fill="#000"/>
<rect x="161.62" y="437.42" width="1.30" height="1.30" fill="#000"/>
<rect x="161.62" y="447.28" width="1.30" height="1.30" fill="#000"/>
<rect x="161.62" y="457.15" width="1.30" height="1.30" fill="#000"/>
<rect x="161.62" y="467.02" width="1.30" height="1.30" fill="#000"/>
<rect x="161.62" y="476.88" width="1.30" height="1.30" fill="#000"/>
<rect x="161.62" y="486.75" width="1.30" height="1.30" fill="#000"/>
<rect x="161.62" y="496.62" width="1.30" height="1.30" fill="#000"/>
<rect x="161.62" y="506.48" width="1.30" height="1.30" fill="#000"/>
<rect x="161.62" y="516.35" width="1.30" height="1.30" fill="#000"/>
</g>
<rect x="28.30" y="422.50" width="136.20" height="95.50" fill="none" stroke="#bcbcbc" stroke-width="0.9"/>
<line x1="25.90" y1="518.00" x2="28.30" y2="518.00" stroke="#bcbcbc" stroke-width="0.8"/>
<text x="25.00" y="520.70" font-size="7.36" text-anchor="end" fill="#1a1a1a" textLength="4.07" lengthAdjust="spacingAndGlyphs" >0</text>
<line x1="25.90" y1="494.75" x2="28.30" y2="494.75" stroke="#bcbcbc" stroke-width="0.8"/>
<text x="25.00" y="497.45" font-size="7.36" text-anchor="end" fill="#1a1a1a" textLength="4.07" lengthAdjust="spacingAndGlyphs" >1</text>
<line x1="25.90" y1="471.50" x2="28.30" y2="471.50" stroke="#bcbcbc" stroke-width="0.8"/>
<text x="25.00" y="474.20" font-size="7.36" text-anchor="end" fill="#1a1a1a" textLength="4.07" lengthAdjust="spacingAndGlyphs" >2</text>
<line x1="25.90" y1="448.25" x2="28.30" y2="448.25" stroke="#bcbcbc" stroke-width="0.8"/>
<text x="25.00" y="450.95" font-size="7.36" text-anchor="end" fill="#1a1a1a" textLength="4.07" lengthAdjust="spacingAndGlyphs" >3</text>
<line x1="25.90" y1="425.00" x2="28.30" y2="425.00" stroke="#bcbcbc" stroke-width="0.8"/>
<text x="25.00" y="427.70" font-size="7.36" text-anchor="end" fill="#1a1a1a" textLength="4.07" lengthAdjust="spacingAndGlyphs" >4</text>
<line x1="32.88" y1="518" x2="32.88" y2="519.4" stroke="#bcbcbc" stroke-width="0.8"/>
<line x1="37.09" y1="518" x2="37.09" y2="519.4" stroke="#bcbcbc" stroke-width="0.8"/>
<line x1="40.85" y1="518" x2="40.85" y2="520.4" stroke="#bcbcbc" stroke-width="0.8"/>
<line x1="65.59" y1="518" x2="65.59" y2="519.4" stroke="#bcbcbc" stroke-width="0.8"/>
<line x1="80.07" y1="518" x2="80.07" y2="519.4" stroke="#bcbcbc" stroke-width="0.8"/>
<line x1="90.34" y1="518" x2="90.34" y2="519.4" stroke="#bcbcbc" stroke-width="0.8"/>
<line x1="98.31" y1="518" x2="98.31" y2="519.4" stroke="#bcbcbc" stroke-width="0.8"/>
<line x1="104.81" y1="518" x2="104.81" y2="519.4" stroke="#bcbcbc" stroke-width="0.8"/>
<line x1="110.32" y1="518" x2="110.32" y2="519.4" stroke="#bcbcbc" stroke-width="0.8"/>
<line x1="115.08" y1="518" x2="115.08" y2="519.4" stroke="#bcbcbc" stroke-width="0.8"/>
<line x1="119.29" y1="518" x2="119.29" y2="519.4" stroke="#bcbcbc" stroke-width="0.8"/>
<line x1="123.05" y1="518" x2="123.05" y2="520.4" stroke="#bcbcbc" stroke-width="0.8"/>
<line x1="147.79" y1="518" x2="147.79" y2="519.4" stroke="#bcbcbc" stroke-width="0.8"/>
<line x1="162.27" y1="518" x2="162.27" y2="519.4" stroke="#bcbcbc" stroke-width="0.8"/>
<text x="40.85" y="526.50" font-size="7.36" text-anchor="middle" fill="#1a1a1a" textLength="10.18" lengthAdjust="spacingAndGlyphs" >0.1</text>
<text x="123.05" y="526.50" font-size="7.36" text-anchor="middle" fill="#1a1a1a" textLength="4.07" lengthAdjust="spacingAndGlyphs" >1</text>
<text x="35.50" y="432.40" font-size="7.60" text-anchor="start" fill="#e468e4" textLength="17.54" lengthAdjust="spacingAndGlyphs" font-weight="bold" >Sos1</text>
<rect x="169.5" y="494" width="87.5" height="23.7" fill="#f3bdf3"/>
<rect x="175.7" y="494" width="4.9" height="12" fill="url(#gcb)"/>
<rect x="175.7" y="506" width="4.9" height="11.7" fill="url(#gyo)"/>
<text x="186.20" y="503.50" font-size="6.70" text-anchor="start" fill="#1a1a1a" textLength="66.93" lengthAdjust="spacingAndGlyphs" >Grb2 cSH3/nSH3 - Sos1</text>
<text x="186.20" y="513.70" font-size="6.70" text-anchor="start" fill="#1a1a1a" textLength="50.32" lengthAdjust="spacingAndGlyphs" >PLCγ1 SH3 - Sos1</text>
<text x="93.85" y="541.10" font-size="8.62" text-anchor="middle" fill="#111" textLength="61.67" lengthAdjust="spacingAndGlyphs" ># PLCγ1 / # LAT</text>
<defs><clipPath id="cb4"><rect x="286.6" y="415" width="136.70" height="103.00"/></clipPath></defs><g clip-path="url(#cb4)">
<polygon points="286.60,427.50 288.83,427.50 307.07,427.50 313.57,428.20 331.81,429.60 346.29,431.20 356.56,432.80 364.52,434.20 371.03,435.30 376.53,435.90 381.30,437.30 389.27,438.90 395.77,440.70 414.01,445.80 420.52,447.00 423.30,447.00 423.30,518.00 286.60,518.00" fill="#f3bdf3"/>
<polygon points="286.60,482.80 288.83,482.80 307.07,482.80 313.57,483.00 331.81,483.20 346.29,483.40 356.56,483.90 364.52,484.50 371.03,484.60 376.53,484.70 381.30,484.80 389.27,484.90 395.77,485.00 414.01,485.30 420.52,485.50 423.30,485.50 423.30,518.00 286.60,518.00" fill="#c0c0c0"/>
<path d="M285.73,484.80V518.00M291.93,484.80V518.00" stroke="#dccfba" stroke-width="0.7" fill="none"/>
<rect x="286.53" y="427.50" width="4.60" height="55.30" fill="url(#gcb)"/>
<rect x="286.53" y="482.80" width="4.60" height="12.10" fill="#1e90ff"/>
<rect x="286.53" y="494.90" width="4.60" height="11.10" fill="#0f64ff"/>
<rect x="286.53" y="506.00" width="4.60" height="12.00" fill="#0000ff"/>
<rect x="288.18" y="427.85" width="1.30" height="1.30" fill="#000"/>
<rect x="288.18" y="433.77" width="1.30" height="1.30" fill="#000"/>
<rect x="288.18" y="439.69" width="1.30" height="1.30" fill="#000"/>
<rect x="288.18" y="445.62" width="1.30" height="1.30" fill="#000"/>
<rect x="288.18" y="451.54" width="1.30" height="1.30" fill="#000"/>
<rect x="288.18" y="457.46" width="1.30" height="1.30" fill="#000"/>
<rect x="288.18" y="463.38" width="1.30" height="1.30" fill="#000"/>
<rect x="288.18" y="469.31" width="1.30" height="1.30" fill="#000"/>
<rect x="288.18" y="475.23" width="1.30" height="1.30" fill="#000"/>
<rect x="288.18" y="481.15" width="1.30" height="1.30" fill="#000"/>
<rect x="288.18" y="494.25" width="1.30" height="1.30" fill="#000"/>
<rect x="288.18" y="505.35" width="1.30" height="1.30" fill="#000"/>
<path d="M303.97,484.80V518.00M310.17,484.80V518.00" stroke="#dccfba" stroke-width="0.7" fill="none"/>
<rect x="304.77" y="427.50" width="4.60" height="55.30" fill="url(#gcb)"/>
<rect x="304.77" y="482.80" width="4.60" height="12.20" fill="#1e90ff"/>
<rect x="304.77" y="495.00" width="4.60" height="11.00" fill="#0f64ff"/>
<rect x="304.77" y="506.00" width="4.60" height="12.00" fill="#0000ff"/>
<rect x="306.42" y="427.85" width="1.30" height="1.30" fill="#000"/>
<rect x="306.42" y="433.77" width="1.30" height="1.30" fill="#000"/>
<rect x="306.42" y="439.69" width="1.30" height="1.30" fill="#000"/>
<rect x="306.42" y="445.62" width="1.30" height="1.30" fill="#000"/>
<rect x="306.42" y="451.54" width="1.30" height="1.30" fill="#000"/>
<rect x="306.42" y="457.46" width="1.30" height="1.30" fill="#000"/>
<rect x="306.42" y="463.38" width="1.30" height="1.30" fill="#000"/>
<rect x="306.42" y="469.31" width="1.30" height="1.30" fill="#000"/>
<rect x="306.42" y="475.23" width="1.30" height="1.30" fill="#000"/>
<rect x="306.42" y="481.15" width="1.30" height="1.30" fill="#000"/>
<rect x="306.42" y="494.35" width="1.30" height="1.30" fill="#000"/>
<rect x="306.42" y="505.35" width="1.30" height="1.30" fill="#000"/>
<path d="M310.47,485.00V518.00M316.67,485.00V518.00" stroke="#dccfba" stroke-width="0.7" fill="none"/>
<rect x="311.27" y="428.20" width="4.60" height="54.80" fill="url(#gcb)"/>
<rect x="311.27" y="483.00" width="4.60" height="12.00" fill="#1e90ff"/>
<rect x="311.27" y="495.00" width="4.60" height="11.20" fill="#0f64ff"/>
<rect x="311.27" y="506.20" width="4.60" height="11.80" fill="#0000ff"/>
<rect x="312.92" y="428.55" width="1.30" height="1.30" fill="#000"/>
<rect x="312.92" y="435.15" width="1.30" height="1.30" fill="#000"/>
<rect x="312.92" y="441.75" width="1.30" height="1.30" fill="#000"/>
<rect x="312.92" y="448.35" width="1.30" height="1.30" fill="#000"/>
<rect x="312.92" y="454.95" width="1.30" height="1.30" fill="#000"/>
<rect x="312.92" y="461.55" width="1.30" height="1.30" fill="#000"/>
<rect x="312.92" y="468.15" width="1.30" height="1.30" fill="#000"/>
<rect x="312.92" y="474.75" width="1.30" height="1.30" fill="#000"/>
<rect x="312.92" y="481.35" width="1.30" height="1.30" fill="#000"/>
<rect x="312.92" y="494.35" width="1.30" height="1.30" fill="#000"/>
<rect x="312.92" y="505.55" width="1.30" height="1.30" fill="#000"/>
<path d="M328.71,485.20V518.00M334.91,485.20V518.00" stroke="#dccfba" stroke-width="0.7" fill="none"/>
<rect x="329.51" y="429.60" width="4.60" height="53.60" fill="url(#gcb)"/>
<rect x="329.51" y="483.20" width="4.60" height="12.00" fill="#1e90ff"/>
<rect x="329.51" y="495.20" width="4.60" height="11.30" fill="#0f64ff"/>
<rect x="329.51" y="506.50" width="4.60" height="11.50" fill="#0000ff"/>
<rect x="331.16" y="429.95" width="1.30" height="1.30" fill="#000"/>
<rect x="331.16" y="436.40" width="1.30" height="1.30" fill="#000"/>
<rect x="331.16" y="442.85" width="1.30" height="1.30" fill="#000"/>
<rect x="331.16" y="449.30" width="1.30" height="1.30" fill="#000"/>
<rect x="331.16" y="455.75" width="1.30" height="1.30" fill="#000"/>
<rect x="331.16" y="462.20" width="1.30" height="1.30" fill="#000"/>
<rect x="331.16" y="468.65" width="1.30" height="1.30" fill="#000"/>
<rect x="331.16" y="475.10" width="1.30" height="1.30" fill="#000"/>
<rect x="331.16" y="481.55" width="1.30" height="1.30" fill="#000"/>
<rect x="331.16" y="494.55" width="1.30" height="1.30" fill="#000"/>
<rect x="331.16" y="505.85" width="1.30" height="1.30" fill="#000"/>
<path d="M343.19,485.40V518.00M349.39,485.40V518.00" stroke="#dccfba" stroke-width="0.7" fill="none"/>
<rect x="343.99" y="431.20" width="4.60" height="52.20" fill="url(#gcb)"/>
<rect x="343.99" y="483.40" width="4.60" height="12.00" fill="#1e90ff"/>
<rect x="343.99" y="495.40" width="4.60" height="11.40" fill="#0f64ff"/>
<rect x="343.99" y="506.80" width="4.60" height="11.20" fill="#0000ff"/>
<rect x="345.64" y="431.55" width="1.30" height="1.30" fill="#000"/>
<rect x="345.64" y="437.82" width="1.30" height="1.30" fill="#000"/>
<rect x="345.64" y="444.10" width="1.30" height="1.30" fill="#000"/>
<rect x="345.64" y="450.38" width="1.30" height="1.30" fill="#000"/>
<rect x="345.64" y="456.65" width="1.30" height="1.30" fill="#000"/>
<rect x="345.64" y="462.93" width="1.30" height="1.30" fill="#000"/>
<rect x="345.64" y="469.20" width="1.30" height="1.30" fill="#000"/>
<rect x="345.64" y="475.48" width="1.30" height="1.30" fill="#000"/>
<rect x="345.64" y="481.75" width="1.30" height="1.30" fill="#000"/>
<rect x="345.64" y="494.75" width="1.30" height="1.30" fill="#000"/>
<rect x="345.64" y="506.15" width="1.30" height="1.30" fill="#000"/>
<path d="M353.46,485.90V518.00M359.66,485.90V518.00" stroke="#dccfba" stroke-width="0.7" fill="none"/>
<rect x="354.26" y="432.80" width="4.60" height="51.10" fill="url(#gcb)"/>
<rect x="354.26" y="483.90" width="4.60" height="11.70" fill="#1e90ff"/>
<rect x="354.26" y="495.60" width="4.60" height="11.60" fill="#0f64ff"/>
<rect x="354.26" y="507.20" width="4.60" height="10.80" fill="#0000ff"/>
<rect x="355.91" y="433.15" width="1.30" height="1.30" fill="#000"/>
<rect x="355.91" y="439.29" width="1.30" height="1.30" fill="#000"/>
<rect x="355.91" y="445.43" width="1.30" height="1.30" fill="#000"/>
<rect x="355.91" y="451.56" width="1.30" height="1.30" fill="#000"/>
<rect x="355.91" y="457.70" width="1.30" height="1.30" fill="#000"/>
<rect x="355.91" y="463.84" width="1.30" height="1.30" fill="#000"/>
<rect x="355.91" y="469.98" width="1.30" height="1.30" fill="#000"/>
<rect x="355.91" y="476.11" width="1.30" height="1.30" fill="#000"/>
<rect x="355.91" y="482.25" width="1.30" height="1.30" fill="#000"/>
<rect x="355.91" y="494.95" width="1.30" height="1.30" fill="#000"/>
<rect x="355.91" y="506.55" width="1.30" height="1.30" fill="#000"/>
<path d="M361.42,486.50V518.00M367.62,486.50V518.00" stroke="#dccfba" stroke-width="0.7" fill="none"/>
<rect x="362.22" y="434.20" width="4.60" height="50.30" fill="url(#gcb)"/>
<rect x="362.22" y="484.50" width="4.60" height="11.50" fill="#1e90ff"/>
<rect x="362.22" y="496.00" width="4.60" height="11.80" fill="#0f64ff"/>
<rect x="362.22" y="507.80" width="4.60" height="10.20" fill="#0000ff"/>
<rect x="363.87" y="434.55" width="1.30" height="1.30" fill="#000"/>
<rect x="363.87" y="440.59" width="1.30" height="1.30" fill="#000"/>
<rect x="363.87" y="446.62" width="1.30" height="1.30" fill="#000"/>
<rect x="363.87" y="452.66" width="1.30" height="1.30" fill="#000"/>
<rect x="363.87" y="458.70" width="1.30" height="1.30" fill="#000"/>
<rect x="363.87" y="464.74" width="1.30" height="1.30" fill="#000"/>
<rect x="363.87" y="470.78" width="1.30" height="1.30" fill="#000"/>
<rect x="363.87" y="476.81" width="1.30" height="1.30" fill="#000"/>
<rect x="363.87" y="482.85" width="1.30" height="1.30" fill="#000"/>
<rect x="363.87" y="495.35" width="1.30" height="1.30" fill="#000"/>
<rect x="363.87" y="507.15" width="1.30" height="1.30" fill="#000"/>
<path d="M367.93,486.60V518.00M374.13,486.60V518.00" stroke="#dccfba" stroke-width="0.7" fill="none"/>
<rect x="368.73" y="435.30" width="4.60" height="49.30" fill="url(#gcb)"/>
<rect x="368.73" y="484.60" width="4.60" height="11.60" fill="#1e90ff"/>
<rect x="368.73" y="496.20" width="4.60" height="11.80" fill="#0f64ff"/>
<rect x="368.73" y="508.00" width="4.60" height="10.00" fill="#0000ff"/>
<rect x="370.38" y="435.65" width="1.30" height="1.30" fill="#000"/>
<rect x="370.38" y="442.41" width="1.30" height="1.30" fill="#000"/>
<rect x="370.38" y="449.16" width="1.30" height="1.30" fill="#000"/>
<rect x="370.38" y="455.92" width="1.30" height="1.30" fill="#000"/>
<rect x="370.38" y="462.68" width="1.30" height="1.30" fill="#000"/>
<rect x="370.38" y="469.44" width="1.30" height="1.30" fill="#000"/>
<rect x="370.38" y="476.19" width="1.30" height="1.30" fill="#000"/>
<rect x="370.38" y="482.95" width="1.30" height="1.30" fill="#000"/>
<rect x="370.38" y="495.55" width="1.30" height="1.30" fill="#000"/>
<rect x="370.38" y="507.35" width="1.30" height="1.30" fill="#000"/>
<path d="M373.43,486.70V518.00M379.63,486.70V518.00" stroke="#dccfba" stroke-width="0.7" fill="none"/>
<rect x="374.23" y="435.90" width="4.60" height="48.80" fill="url(#gcb)"/>
<rect x="374.23" y="484.70" width="4.60" height="11.70" fill="#1e90ff"/>
<rect x="374.23" y="496.40" width="4.60" height="11.80" fill="#0f64ff"/>
<rect x="374.23" y="508.20" width="4.60" height="9.80" fill="#0000ff"/>
<rect x="375.88" y="436.25" width="1.30" height="1.30" fill="#000"/>
<rect x="375.88" y="442.94" width="1.30" height="1.30" fill="#000"/>
<rect x="375.88" y="449.62" width="1.30" height="1.30" fill="#000"/>
<rect x="375.88" y="456.31" width="1.30" height="1.30" fill="#000"/>
<rect x="375.88" y="462.99" width="1.30" height="1.30" fill="#000"/>
<rect x="375.88" y="469.68" width="1.30" height="1.30" fill="#000"/>
<rect x="375.88" y="476.36" width="1.30" height="1.30" fill="#000"/>
<rect x="375.88" y="483.05" width="1.30" height="1.30" fill="#000"/>
<rect x="375.88" y="495.75" width="1.30" height="1.30" fill="#000"/>
<rect x="375.88" y="507.55" width="1.30" height="1.30" fill="#000"/>
<path d="M378.20,486.80V518.00M384.40,486.80V518.00" stroke="#dccfba" stroke-width="0.7" fill="none"/>
<rect x="379.00" y="437.30" width="4.60" height="47.50" fill="url(#gcb)"/>
<rect x="379.00" y="484.80" width="4.60" height="11.80" fill="#1e90ff"/>
<rect x="379.00" y="496.60" width="4.60" height="11.80" fill="#0f64ff"/>
<rect x="379.00" y="508.40" width="4.60" height="9.60" fill="#0000ff"/>
<rect x="380.65" y="437.65" width="1.30" height="1.30" fill="#000"/>
<rect x="380.65" y="444.15" width="1.30" height="1.30" fill="#000"/>
<rect x="380.65" y="450.65" width="1.30" height="1.30" fill="#000"/>
<rect x="380.65" y="457.15" width="1.30" height="1.30" fill="#000"/>
<rect x="380.65" y="463.65" width="1.30" height="1.30" fill="#000"/>
<rect x="380.65" y="470.15" width="1.30" height="1.30" fill="#000"/>
<rect x="380.65" y="476.65" width="1.30" height="1.30" fill="#000"/>
<rect x="380.65" y="483.15" width="1.30" height="1.30" fill="#000"/>
<rect x="380.65" y="495.95" width="1.30" height="1.30" fill="#000"/>
<rect x="380.65" y="507.75" width="1.30" height="1.30" fill="#000"/>
<path d="M386.17,486.90V518.00M392.37,486.90V518.00" stroke="#dccfba" stroke-width="0.7" fill="none"/>
<rect x="386.97" y="438.90" width="4.60" height="46.00" fill="url(#gcb)"/>
<rect x="386.97" y="484.90" width="4.60" height="12.10" fill="#1e90ff"/>
<rect x="386.97" y="497.00" width="4.60" height="11.60" fill="#0f64ff"/>
<rect x="386.97" y="508.60" width="4.60" height="9.40" fill="#0000ff"/>
<rect x="388.62" y="439.25" width="1.30" height="1.30" fill="#000"/>
<rect x="388.62" y="445.54" width="1.30" height="1.30" fill="#000"/>
<rect x="388.62" y="451.82" width="1.30" height="1.30" fill="#000"/>
<rect x="388.62" y="458.11" width="1.30" height="1.30" fill="#000"/>
<rect x="388.62" y="464.39" width="1.30" height="1.30" fill="#000"/>
<rect x="388.62" y="470.68" width="1.30" height="1.30" fill="#000"/>
<rect x="388.62" y="476.96" width="1.30" height="1.30" fill="#000"/>
<rect x="388.62" y="483.25" width="1.30" height="1.30" fill="#000"/>
<rect x="388.62" y="496.35" width="1.30" height="1.30" fill="#000"/>
<rect x="388.62" y="507.95" width="1.30" height="1.30" fill="#000"/>
<path d="M392.67,487.00V518.00M398.87,487.00V518.00" stroke="#dccfba" stroke-width="0.7" fill="none"/>
<rect x="393.47" y="440.70" width="4.60" height="44.30" fill="url(#gcb)"/>
<rect x="393.47" y="485.00" width="4.60" height="12.20" fill="#1e90ff"/>
<rect x="393.47" y="497.20" width="4.60" height="11.60" fill="#0f64ff"/>
<rect x="393.47" y="508.80" width="4.60" height="9.20" fill="#0000ff"/>
<rect x="395.12" y="441.05" width="1.30" height="1.30" fill="#000"/>
<rect x="395.12" y="447.09" width="1.30" height="1.30" fill="#000"/>
<rect x="395.12" y="453.14" width="1.30" height="1.30" fill="#000"/>
<rect x="395.12" y="459.18" width="1.30" height="1.30" fill="#000"/>
<rect x="395.12" y="465.22" width="1.30" height="1.30" fill="#000"/>
<rect x="395.12" y="471.26" width="1.30" height="1.30" fill="#000"/>
<rect x="395.12" y="477.31" width="1.30" height="1.30" fill="#000"/>
<rect x="395.12" y="483.35" width="1.30" height="1.30" fill="#000"/>
<rect x="395.12" y="496.55" width="1.30" height="1.30" fill="#000"/>
<rect x="395.12" y="508.15" width="1.30" height="1.30" fill="#000"/>
<path d="M410.91,487.30V518.00M417.11,487.30V518.00" stroke="#dccfba" stroke-width="0.7" fill="none"/>
<rect x="411.71" y="445.80" width="4.60" height="39.50" fill="url(#gcb)"/>
<rect x="411.71" y="485.30" width="4.60" height="12.70" fill="#1e90ff"/>
<rect x="411.71" y="498.00" width="4.60" height="13.20" fill="#0f64ff"/>
<rect x="411.71" y="511.20" width="4.60" height="6.80" fill="#0000ff"/>
<rect x="413.36" y="446.15" width="1.30" height="1.30" fill="#000"/>
<rect x="413.36" y="452.40" width="1.30" height="1.30" fill="#000"/>
<rect x="413.36" y="458.65" width="1.30" height="1.30" fill="#000"/>
<rect x="413.36" y="464.90" width="1.30" height="1.30" fill="#000"/>
<rect x="413.36" y="471.15" width="1.30" height="1.30" fill="#000"/>
<rect x="413.36" y="477.40" width="1.30" height="1.30" fill="#000"/>
<rect x="413.36" y="483.65" width="1.30" height="1.30" fill="#000"/>
<rect x="413.36" y="497.35" width="1.30" height="1.30" fill="#000"/>
<rect x="413.36" y="510.55" width="1.30" height="1.30" fill="#000"/>
<path d="M417.42,487.50V518.00M423.62,487.50V518.00" stroke="#dccfba" stroke-width="0.7" fill="none"/>
<rect x="418.22" y="447.00" width="4.60" height="38.50" fill="url(#gcb)"/>
<rect x="418.22" y="485.50" width="4.60" height="12.50" fill="#1e90ff"/>
<rect x="418.22" y="498.00" width="4.60" height="13.50" fill="#0f64ff"/>
<rect x="418.22" y="511.50" width="4.60" height="6.50" fill="#0000ff"/>
<rect x="419.87" y="447.35" width="1.30" height="1.30" fill="#000"/>
<rect x="419.87" y="453.43" width="1.30" height="1.30" fill="#000"/>
<rect x="419.87" y="459.52" width="1.30" height="1.30" fill="#000"/>
<rect x="419.87" y="465.60" width="1.30" height="1.30" fill="#000"/>
<rect x="419.87" y="471.68" width="1.30" height="1.30" fill="#000"/>
<rect x="419.87" y="477.77" width="1.30" height="1.30" fill="#000"/>
<rect x="419.87" y="483.85" width="1.30" height="1.30" fill="#000"/>
<rect x="419.87" y="497.35" width="1.30" height="1.30" fill="#000"/>
<rect x="419.87" y="510.85" width="1.30" height="1.30" fill="#000"/>
</g>
<rect x="286.60" y="422.60" width="136.70" height="95.40" fill="none" stroke="#bcbcbc" stroke-width="0.9"/>
<line x1="284.20" y1="518.00" x2="286.60" y2="518.00" stroke="#bcbcbc" stroke-width="0.8"/>
<text x="283.30" y="520.70" font-size="7.36" text-anchor="end" fill="#1a1a1a" textLength="10.18" lengthAdjust="spacingAndGlyphs" >0.0</text>
<line x1="284.20" y1="499.30" x2="286.60" y2="499.30" stroke="#bcbcbc" stroke-width="0.8"/>
<text x="283.30" y="502.00" font-size="7.36" text-anchor="end" fill="#1a1a1a" textLength="10.18" lengthAdjust="spacingAndGlyphs" >0.5</text>
<line x1="284.20" y1="480.75" x2="286.60" y2="480.75" stroke="#bcbcbc" stroke-width="0.8"/>
<text x="283.30" y="483.45" font-size="7.36" text-anchor="end" fill="#1a1a1a" textLength="10.18" lengthAdjust="spacingAndGlyphs" >1.0</text>
<line x1="284.20" y1="462.00" x2="286.60" y2="462.00" stroke="#bcbcbc" stroke-width="0.8"/>
<text x="283.30" y="464.70" font-size="7.36" text-anchor="end" fill="#1a1a1a" textLength="10.18" lengthAdjust="spacingAndGlyphs" >1.5</text>
<line x1="284.20" y1="443.00" x2="286.60" y2="443.00" stroke="#bcbcbc" stroke-width="0.8"/>
<text x="283.30" y="445.70" font-size="7.36" text-anchor="end" fill="#1a1a1a" textLength="10.18" lengthAdjust="spacingAndGlyphs" >2.0</text>
<line x1="284.20" y1="424.50" x2="286.60" y2="424.50" stroke="#bcbcbc" stroke-width="0.8"/>
<text x="283.30" y="427.20" font-size="7.36" text-anchor="end" fill="#1a1a1a" textLength="10.18" lengthAdjust="spacingAndGlyphs" >2.5</text>
<line x1="291.13" y1="518" x2="291.13" y2="519.4" stroke="#bcbcbc" stroke-width="0.8"/>
<line x1="295.34" y1="518" x2="295.34" y2="519.4" stroke="#bcbcbc" stroke-width="0.8"/>
<line x1="299.10" y1="518" x2="299.10" y2="520.4" stroke="#bcbcbc" stroke-width="0.8"/>
<line x1="323.84" y1="518" x2="323.84" y2="519.4" stroke="#bcbcbc" stroke-width="0.8"/>
<line x1="338.32" y1="518" x2="338.32" y2="519.4" stroke="#bcbcbc" stroke-width="0.8"/>
<line x1="348.59" y1="518" x2="348.59" y2="519.4" stroke="#bcbcbc" stroke-width="0.8"/>
<line x1="356.56" y1="518" x2="356.56" y2="519.4" stroke="#bcbcbc" stroke-width="0.8"/>
<line x1="363.06" y1="518" x2="363.06" y2="519.4" stroke="#bcbcbc" stroke-width="0.8"/>
<line x1="368.57" y1="518" x2="368.57" y2="519.4" stroke="#bcbcbc" stroke-width="0.8"/>
<line x1="373.33" y1="518" x2="373.33" y2="519.4" stroke="#bcbcbc" stroke-width="0.8"/>
<line x1="377.54" y1="518" x2="377.54" y2="519.4" stroke="#bcbcbc" stroke-width="0.8"/>
<line x1="381.30" y1="518" x2="381.30" y2="520.4" stroke="#bcbcbc" stroke-width="0.8"/>
<line x1="406.04" y1="518" x2="406.04" y2="519.4" stroke="#bcbcbc" stroke-width="0.8"/>
<line x1="420.52" y1="518" x2="420.52" y2="519.4" stroke="#bcbcbc" stroke-width="0.8"/>
<text x="299.10" y="526.50" font-size="7.36" text-anchor="middle" fill="#1a1a1a" textLength="10.18" lengthAdjust="spacingAndGlyphs" >0.1</text>
<text x="381.30" y="526.50" font-size="7.36" text-anchor="middle" fill="#1a1a1a" textLength="4.07" lengthAdjust="spacingAndGlyphs" >1</text>
<text x="396.20" y="432.40" font-size="7.60" text-anchor="start" fill="#2a88ee" textLength="17.72" lengthAdjust="spacingAndGlyphs" font-weight="bold" >Grb2</text>
<rect x="428" y="477.9" width="86" height="11" fill="#f3bdf3"/>
<rect x="428" y="488.9" width="86" height="28.8" fill="#c0c0c0"/>
<rect x="433.8" y="477.9" width="4.6" height="11" fill="url(#gcb)"/>
<rect x="433.8" y="488.9" width="4.6" height="9.6" fill="#1e90ff"/>
<rect x="433.8" y="498.5" width="4.6" height="9.6" fill="#0f64ff"/>
<rect x="433.8" y="508.1" width="4.6" height="9.6" fill="#0000ff"/>
<text x="443.50" y="486.00" font-size="6.70" text-anchor="start" fill="#1a1a1a" textLength="66.93" lengthAdjust="spacingAndGlyphs" >Sos1 - Grb2 cSH3/nSH3</text>
<text x="443.50" y="497.80" font-size="6.70" text-anchor="start" fill="#1a1a1a" textLength="65.19" lengthAdjust="spacingAndGlyphs" >LAT pY 226 - Grb2 SH2</text>
<text x="443.50" y="506.20" font-size="6.70" text-anchor="start" fill="#1a1a1a" textLength="65.19" lengthAdjust="spacingAndGlyphs" >LAT pY 191 - Grb2 SH2</text>
<text x="443.50" y="515.10" font-size="6.70" text-anchor="start" fill="#1a1a1a" textLength="65.19" lengthAdjust="spacingAndGlyphs" >LAT pY 171 - Grb2 SH2</text>
<text x="357.30" y="541.10" font-size="8.62" text-anchor="middle" fill="#111" textLength="61.67" lengthAdjust="spacingAndGlyphs" ># PLCγ1 / # LAT</text>
<g transform="translate(8.5,418) rotate(-90)">
<text x="0.00" y="0.00" font-size="9.26" text-anchor="middle" fill="#111" stroke="#111" stroke-width="0.14" textLength="171.53" lengthAdjust="spacingAndGlyphs" >Coordination [# bound sites per molecule]</text>
</g>
</svg></body></html>
